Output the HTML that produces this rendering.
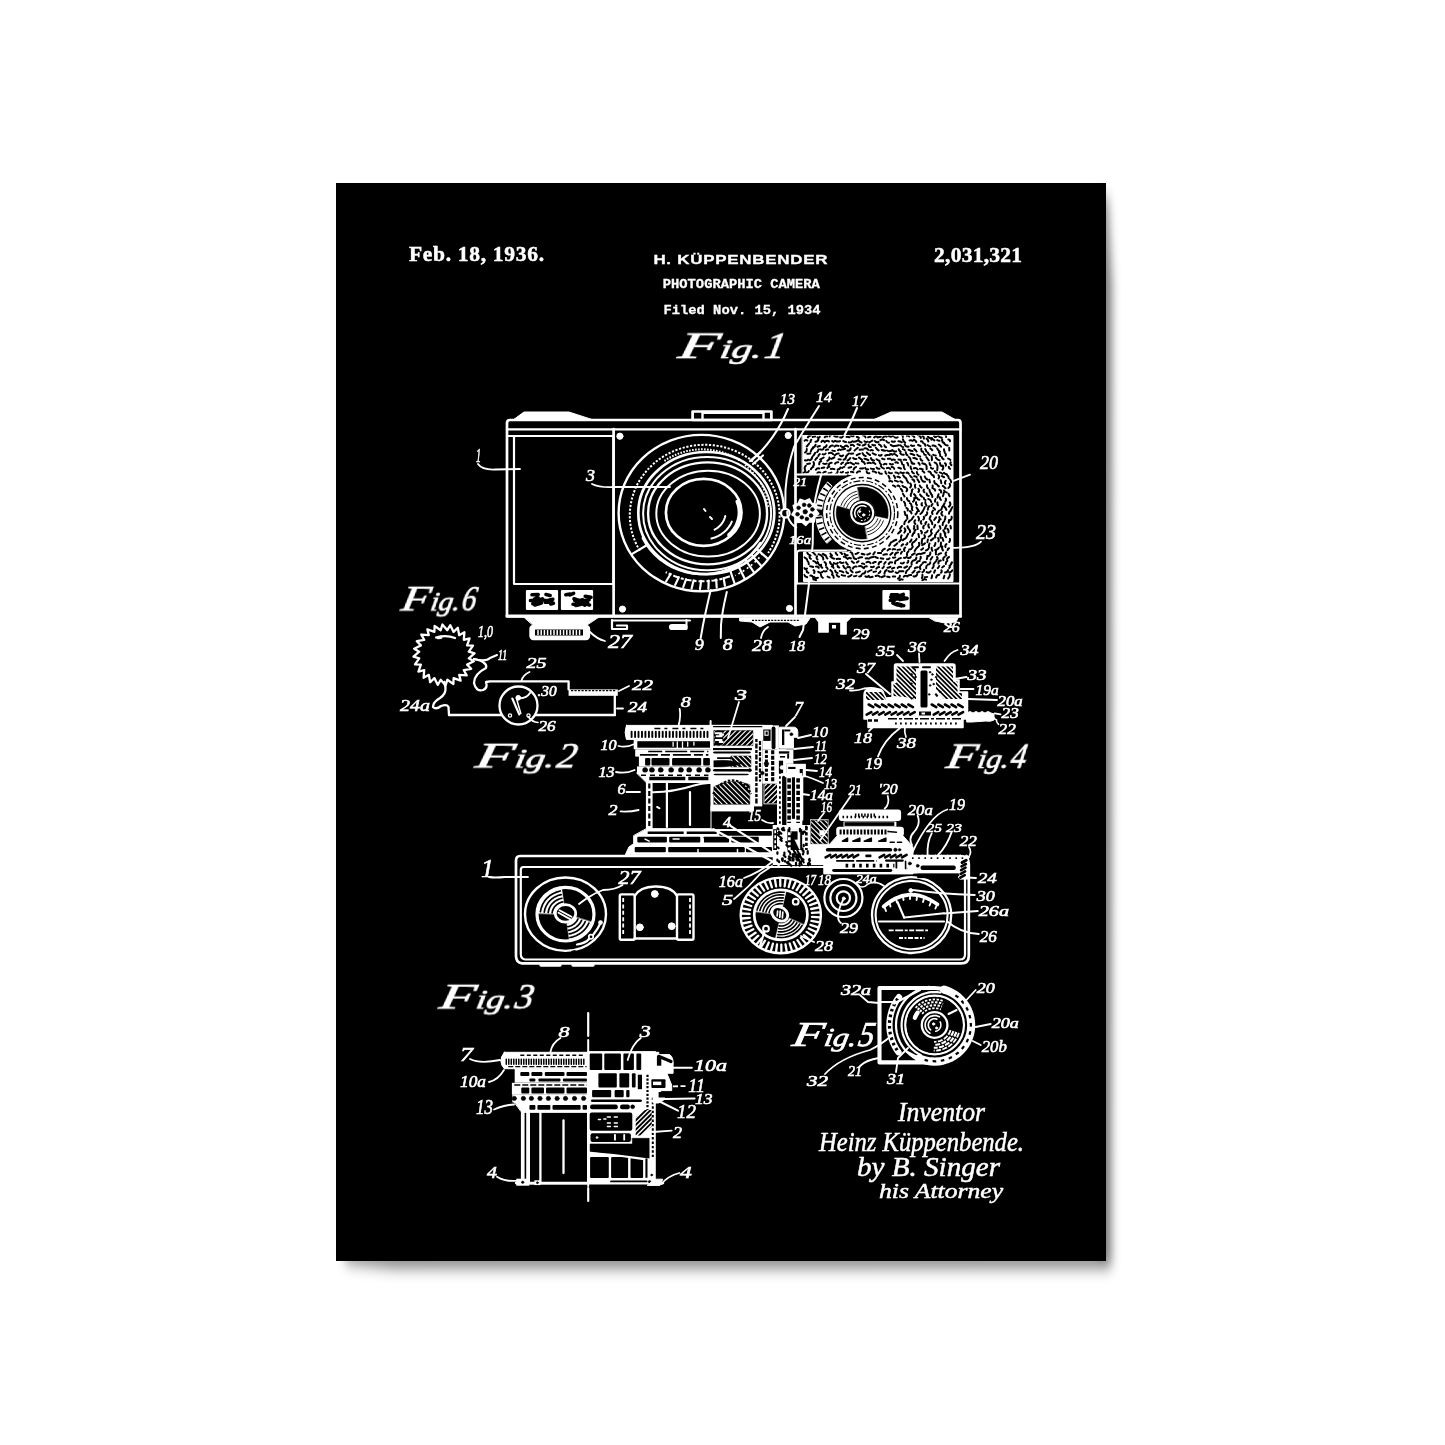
<!DOCTYPE html>
<html lang="en"><head><meta charset="utf-8"><title>Photographic Camera Patent Poster</title>
<style>
html,body{margin:0;padding:0;background:#fff;}
body{width:1445px;height:1445px;overflow:hidden;position:relative;}
svg{display:block;position:absolute;left:0;top:0;}
path,circle,ellipse,rect,polyline{stroke-linecap:round;stroke-linejoin:round;}
text{fill:#fff;stroke:none;}
.lb{font-family:"Liberation Serif","DejaVu Serif",serif;font-style:italic;stroke:#fff;stroke-width:.6px;}
.fig{font-family:"Liberation Serif","DejaVu Serif",serif;font-style:italic;stroke:#fff;stroke-width:.7px;}
.sig{font-family:"Liberation Serif","DejaVu Serif",serif;font-style:italic;stroke:#fff;stroke-width:.5px;}
.hd{font-family:"Liberation Serif","DejaVu Serif",serif;font-weight:bold;stroke:#fff;stroke-width:.5px;}
.nm{font-family:"Liberation Sans","DejaVu Sans",sans-serif;font-weight:bold;stroke:#fff;stroke-width:.35px;}
.mn{font-family:"Liberation Mono","DejaVu Sans Mono",monospace;font-weight:bold;stroke:#fff;stroke-width:.3px;}
</style></head>
<body>
<svg width="1445" height="1445" viewBox="0 0 1445 1445" fill="none" stroke="#fff">
<defs>
<filter id="sh" x="-10%" y="-10%" width="120%" height="120%"><feGaussianBlur stdDeviation="4.6 8"/></filter>
<filter id="soft" x="-5%" y="-5%" width="110%" height="110%"><feGaussianBlur stdDeviation="0.45"/></filter>
</defs>
<path d="M343 1250L347 1262L395 1267L1111 1267L1111.5 285L1107 198L1098 194L1098 1252Z" fill="#000" fill-opacity=".55" stroke="none" filter="url(#sh)"/>
<rect x="336" y="183" width="770" height="1078" fill="#000" stroke="none"/>
<g filter="url(#soft)">
<text class="hd" x="409" y="261" font-size="21.5" textLength="135" lengthAdjust="spacing" >Feb. 18, 1936.</text>
<text class="hd" x="934" y="262" font-size="21.5" textLength="88" lengthAdjust="spacing" >2,031,321</text>
<text class="nm" x="653.4" y="263.8" font-size="13.7" textLength="174.8" lengthAdjust="spacingAndGlyphs" letter-spacing=".6">H. KÜPPENBENDER</text>
<text class="mn" x="662.8" y="287.8" font-size="12.7" textLength="157.1" lengthAdjust="spacingAndGlyphs" >PHOTOGRAPHIC CAMERA</text>
<text class="mn" x="663.5" y="314" font-size="13.6" textLength="157.1" lengthAdjust="spacingAndGlyphs" >Filed Nov. 15, 1934</text>
<text class="fig" transform="translate(676 357.6) skewX(-10)"><tspan x="1" y="0" font-size="37" textLength="41" lengthAdjust="spacingAndGlyphs">F</tspan><tspan x="43.1" y="0" font-size="27.4" textLength="42" lengthAdjust="spacingAndGlyphs">ig.</tspan><tspan x="87.2" y="0" font-size="37" textLength="20.8" lengthAdjust="spacingAndGlyphs">1</tspan></text>
<text class="fig" transform="translate(399 611) skewX(-10)"><tspan x="1" y="0" font-size="35" textLength="28.6" lengthAdjust="spacingAndGlyphs">F</tspan><tspan x="30.4" y="0" font-size="25.9" textLength="29.6" lengthAdjust="spacingAndGlyphs">ig.</tspan><tspan x="61.6" y="0" font-size="35" textLength="14.4" lengthAdjust="spacingAndGlyphs">6</tspan></text>
<text class="fig" transform="translate(473 768) skewX(-10)"><tspan x="1" y="0" font-size="35" textLength="38.7" lengthAdjust="spacingAndGlyphs">F</tspan><tspan x="40.7" y="0" font-size="25.9" textLength="39.7" lengthAdjust="spacingAndGlyphs">ig.</tspan><tspan x="82.4" y="0" font-size="35" textLength="19.6" lengthAdjust="spacingAndGlyphs">2</tspan></text>
<text class="fig" transform="translate(944 768.5) skewX(-10)"><tspan x="1" y="0" font-size="35" textLength="30.6" lengthAdjust="spacingAndGlyphs">F</tspan><tspan x="32.4" y="0" font-size="25.9" textLength="31.6" lengthAdjust="spacingAndGlyphs">ig.</tspan><tspan x="65.6" y="0" font-size="35" textLength="15.4" lengthAdjust="spacingAndGlyphs">4</tspan></text>
<text class="fig" transform="translate(437 1009) skewX(-10)"><tspan x="1" y="0" font-size="35" textLength="36" lengthAdjust="spacingAndGlyphs">F</tspan><tspan x="37.9" y="0" font-size="25.9" textLength="37" lengthAdjust="spacingAndGlyphs">ig.</tspan><tspan x="76.8" y="0" font-size="35" textLength="18.2" lengthAdjust="spacingAndGlyphs">3</tspan></text>
<text class="fig" transform="translate(790 1046) skewX(-10)"><tspan x="1" y="0" font-size="35" textLength="31.3" lengthAdjust="spacingAndGlyphs">F</tspan><tspan x="33.2" y="0" font-size="25.9" textLength="32.3" lengthAdjust="spacingAndGlyphs">ig.</tspan><tspan x="67.2" y="0" font-size="35" textLength="15.8" lengthAdjust="spacingAndGlyphs">5</tspan></text>
<text class="sig" x="898" y="1120.5" font-size="27" textLength="87" lengthAdjust="spacingAndGlyphs" >Inventor</text>
<text class="sig" x="819" y="1151" font-size="28" textLength="205" lengthAdjust="spacingAndGlyphs" >Heinz Küppenbende.</text>
<text class="sig" x="857" y="1176" font-size="27" textLength="143" lengthAdjust="spacingAndGlyphs" >by  B. Singer</text>
<text class="sig" x="879" y="1198" font-size="22" textLength="124" lengthAdjust="spacingAndGlyphs" >his Attorney</text>
<path d="M510 420L958 420Q960.5 420 960.5 423L960.5 616.5L507 616.5L507 423Q507 420 510 420Z" stroke="#fff" stroke-width="2.7" fill="none" />
<path d="M507 429.4L960.5 429.4" stroke="#fff" stroke-width="2.3" />
<path d="M507 616L960.5 616" stroke="#fff" stroke-width="3.2" />
<path d="M513 420L524 412L569 412L592 419.5Z" stroke="#fff" stroke-width="1" fill="#fff" />
<path d="M873 420L891 412L942 412L956 420Z" stroke="#fff" stroke-width="1" fill="#fff" />
<rect x="692.6" y="411.5" width="78.8" height="8.5" rx="0" stroke="#fff" stroke-width="2.7" fill="none" />
<path d="M702.5 412L702.5 420" stroke="#fff" stroke-width="2.4" />
<path d="M763.5 412L763.5 420" stroke="#fff" stroke-width="2.4" />
<path d="M703 412.3L763 412.3" stroke="#fff" stroke-width="3.2" />
<rect x="514" y="436" width="99.4" height="148" rx="0" stroke="#fff" stroke-width="2.2" fill="none" />
<path d="M507 436L514 436" stroke="#fff" stroke-width="1.8" />
<path d="M613.6 429L613.6 616" stroke="#fff" stroke-width="2.7" />
<path d="M795.5 429L795.5 616" stroke="#fff" stroke-width="2.7" />
<circle cx="619.9" cy="436.2" r="3.1" stroke="#fff" stroke-width="1" fill="#fff" />
<circle cx="788.2" cy="435.5" r="3.1" stroke="#fff" stroke-width="1" fill="#fff" />
<circle cx="622.5" cy="609.1" r="3.1" stroke="#fff" stroke-width="1" fill="#fff" />
<circle cx="789.5" cy="608.4" r="3.1" stroke="#fff" stroke-width="1" fill="#fff" />
<rect x="527" y="591" width="30" height="18" rx="0" stroke="#fff" stroke-width="2.2" fill="#fff" />
<path d="M532.8 603.8l5.8 -1M540.4 599.4l5.3 1.2M532 594.8l6.2 -0.3M546 594.5l4.2 0.9M534.8 604.9l6.5 -1.9M530.5 600.5l6.7 -0.5M534.5 599.1l2.1 -1.1M539.2 600l3.2 -1.1M534.6 599.6l3.4 -1.9M547.6 600.6l5.2 -1.3M550.8 604l2.6 -0.7M545.2 602.3l6.7 -0.3M547.4 601.9l3.5 0.4" stroke="#000" stroke-width="3.6" fill="none" />
<rect x="562" y="591" width="30" height="18" rx="0" stroke="#fff" stroke-width="2.2" fill="#fff" />
<path d="M585.1 604.9l2.3 -1.7M582.5 602.6l5.3 -0.8M577.7 601.2l4.9 -1.4M574 598.8l5.6 2M584.9 600.5l4.2 -0.9M565.8 594.8l4.3 -0.7M573 604.3l4.6 0.2M570 594.8l3.6 -1.5M575.7 605.5l5.4 -1.3M583.8 603.3l5.7 1.6M581 603.2l3.8 1.9M585.2 596.3l5.8 0.9M574.7 600.3l4.5 1.7" stroke="#000" stroke-width="3.6" fill="none" />
<rect x="883.5" y="591" width="25.1" height="17.7" rx="0" stroke="#fff" stroke-width="2.2" fill="#fff" />
<path d="M890.3 600.3l3.8 0.4M896.6 595.2l2.1 1.3M890.7 597l7 -0.1M900 599.6l5.2 -1.4M896.7 603.8l4.6 1M897.3 595.2l5.8 0.4M891.4 594.8l6.3 -0.1M898.1 603.9l5.6 1.7M892.9 603.1l4.2 1.7M900.6 595.5l2.7 -1.1M902 599.2l5.1 -0.8M894.7 598.6l3.8 0.3M895.9 604.2l5.4 1.7" stroke="#000" stroke-width="3.6" fill="none" />
<ellipse cx="701.4" cy="513.1" rx="82.8" ry="78.2" stroke="#fff" stroke-width="2.4" fill="none" />
<path d="M639.8 550.7L636.2 544.1L633.4 537.1L631.3 529.9L630.1 522.5L629.7 515.1L630.2 507.6L631.5 500.3L633.6 493.1L636.4 486.1L640.1 479.5L644.5 473.3L649.5 467.6L655.2 462.3L661.4 457.7L668.1 453.7L675.1 450.4L682.6 447.9L690.2 446L698.1 445L706 444.7L713.9 445.3L721.7 446.6L729.3 448.6L736.6 451.5L743.6 455L750.1 459.2L756.1 464L761.6 469.4L766.4 475.3L770.5 481.7L773.9 488.4L776.6 495.4L778.4 502.7L779.4 510.1L779.6 517.6L778.9 525L777.4 532.3L775.1 539.5L772.1 546.3L768.2 552.9" stroke="#fff" stroke-width="2" fill="none" stroke-dasharray="2.2 1.6" style="stroke-linecap:butt"/>
<ellipse cx="706.3" cy="513.1" rx="68" ry="61.1" stroke="#fff" stroke-width="2.7" fill="none" />
<ellipse cx="707.1" cy="513.6" rx="64" ry="56.7" stroke="#fff" stroke-width="2" fill="none" />
<ellipse cx="707.6" cy="513.4" rx="59.5" ry="51" stroke="#fff" stroke-width="2.4" fill="none" />
<ellipse cx="708.1" cy="513.6" rx="51.8" ry="42.9" stroke="#fff" stroke-width="2" fill="none" />
<ellipse cx="703.7" cy="512.4" rx="37.8" ry="33.5" stroke="#fff" stroke-width="2.7" fill="none" />
<path d="M767.4 558.4L756.5 548.9M761.1 565.7L751.4 554.8M753.8 572.1L745.5 560M744.6 578.5L738 565.2M734.6 583.5L729.8 569.3M632.2 553.9L646.7 545.3M724.9 585.7L723.6 578M716.7 587.6L716.2 579.7M708.4 588.7L708.7 580.7M700 589L701.1 580.9M691.6 588.4L693.6 580.4M683.3 587L686.1 579.2M675.2 584.9L678.8 577.2M666.2 581.3L670.6 574" stroke="#fff" stroke-width="2.2" fill="none" />
<path d="M729.9 576.3L724.6 578.1L719.3 579.5L713.9 580.5L708.4 581.1L702.8 581.3L697.3 581.2L691.8 580.6L686.3 579.7L681 578.3L675.7 576.6L670.6 574.5L665.7 572.1" stroke="#fff" stroke-width="2.1" fill="none" stroke-dasharray="6 2 3 2" style="stroke-linecap:butt"/>
<path d="M762.7 553.5L759.9 556.9L756.9 560.1L753.7 563.2L750.3 566L746.7 568.7L743 571.2L739.1 573.4L735.1 575.4" stroke="#fff" stroke-width="1.7" fill="none" stroke-dasharray="2 3" style="stroke-linecap:butt"/>
<path d="M760.3 542.9L756.3 548.6L751.7 553.9L746.6 558.7L740.9 562.9L734.8 566.5L728.2 569.4L721.4 571.7L714.4 573.2L707.2 574.1L700 574.1L692.8 573.5L685.7 572.1L678.9 569.9L672.3 567.1L666.1 563.6L660.3 559.5L655 554.9L650.3 549.7L646.2 544.1L642.8 538.1" stroke="#fff" stroke-width="2.4" fill="none" />
<path d="M664.4 460.9L668.6 458.2L673.1 455.9L677.7 453.9L682.5 452.3L687.3 451L692.3 450.1L697.3 449.5L702.4 449.3L707.4 449.5L712.5 450.1L717.4 451L722.3 452.3L727.1 453.9L731.7 455.9L736.1 458.2L740.4 460.9" stroke="#fff" stroke-width="2" fill="none" stroke-dasharray="1.6 1.4" style="stroke-linecap:butt"/>
<path d="M745 465.2L748.8 468.5L752.4 472L755.7 475.9L758.6 479.9L761.2 484.2L763.4 488.6L765.2 493.2L766.7 498L767.8 502.8L768.4 507.6" stroke="#fff" stroke-width="1.7" fill="none" stroke-dasharray="1.4 2" style="stroke-linecap:butt"/>
<path d="M725.3 515.9L724.7 518L723.9 520.1L722.9 522L721.6 523.9L720.1 525.6L718.5 527.1L716.6 528.5L714.6 529.7" stroke="#fff" stroke-width="2" fill="none" />
<path d="M731.8 521.6L730.4 524.6L728.5 527.4L726.4 530L723.9 532.3L721.1 534.3L718 536.1L714.8 537.5L711.4 538.5" stroke="#fff" stroke-width="2" fill="none" />
<path d="M737.4 501.5L738.6 504.9L739.3 508.5L739.6 512.1L739.4 515.7L738.7 519.3L737.6 522.8L736.1 526.2L734.1 529.4L731.8 532.3L729.1 535" stroke="#fff" stroke-width="3.9" fill="none" />
<path d="M704 509L705.5 511" stroke="#fff" stroke-width="2" />
<path d="M710 517L712 519" stroke="#fff" stroke-width="2" />
<path d="M750 461L760 452.5" stroke="#fff" stroke-width="2.2" />
<path d="M753 464L763 455.5" stroke="#fff" stroke-width="2.2" />
<text class="lb" x="780" y="404" font-size="15.2" textLength="15" lengthAdjust="spacingAndGlyphs" >13</text>
<path d="M788 409Q775 440 751 461" stroke="#fff" stroke-width="2" fill="none" />
<text class="lb" x="816" y="402" font-size="15.2" textLength="16" lengthAdjust="spacingAndGlyphs" >14</text>
<path d="M819 406Q800 436 794 447Q787 468 785.5 490L785.3 508" stroke="#fff" stroke-width="2" fill="none" />
<text class="lb" x="852" y="406" font-size="15.2" textLength="15" lengthAdjust="spacingAndGlyphs" >17</text>
<path d="M857 408Q850 425 843 438Q828 462 821 475.5Q814 500 813 517L812.7 544L809 584L803 630L799.5 637" stroke="#fff" stroke-width="2" fill="none" />
<text class="lb" x="476" y="462" font-size="18.2" textLength="5" lengthAdjust="spacingAndGlyphs" >1</text>
<path d="M478 464Q482 470 495 469.5L520 469" stroke="#fff" stroke-width="1.8" fill="none" />
<text class="lb" x="586" y="481" font-size="16.7" textLength="9" lengthAdjust="spacingAndGlyphs" >3</text>
<path d="M592 484Q600 488 615 487L670 487" stroke="#fff" stroke-width="1.8" fill="none" />
<text class="lb" x="980" y="469" font-size="18.2" textLength="18" lengthAdjust="spacingAndGlyphs" >20</text>
<path d="M970 474.7L953.6 480.8" stroke="#fff" stroke-width="1.8" />
<text class="lb" x="976" y="539.4" font-size="20.8" textLength="20" lengthAdjust="spacingAndGlyphs" >23</text>
<path d="M981 541.7Q975 548 953.6 547.8" stroke="#fff" stroke-width="1.8" fill="none" />
<text class="lb" x="789" y="544" font-size="13" textLength="22" lengthAdjust="spacingAndGlyphs" >16a</text>
<text class="lb" x="793.6" y="486" font-size="12.1" textLength="13.4" lengthAdjust="spacingAndGlyphs" >21</text>
<text class="lb" x="943.7" y="632" font-size="14.5" textLength="16" lengthAdjust="spacingAndGlyphs" >26</text>
<text class="lb" x="608" y="648" font-size="18.2" textLength="24" lengthAdjust="spacingAndGlyphs" >27</text>
<path d="M590 632Q597 639 605 641" stroke="#fff" stroke-width="1.8" fill="none" />
<text class="lb" x="694.7" y="650" font-size="16.7" textLength="9" lengthAdjust="spacingAndGlyphs" >9</text>
<path d="M710.7 590Q706 610 703 625L700.7 638" stroke="#fff" stroke-width="2" fill="none" />
<text class="lb" x="722.8" y="650" font-size="16.7" textLength="10" lengthAdjust="spacingAndGlyphs" >8</text>
<path d="M726.8 592Q722 612 721 625L720.8 638" stroke="#fff" stroke-width="2" fill="none" />
<text class="lb" x="752" y="651" font-size="16.7" textLength="20" lengthAdjust="spacingAndGlyphs" >28</text>
<path d="M768 627Q762 631 761 638" stroke="#fff" stroke-width="1.8" fill="none" />
<text class="lb" x="789" y="651" font-size="15.2" textLength="16" lengthAdjust="spacingAndGlyphs" >18</text>
<text class="lb" x="852" y="639" font-size="15.2" textLength="17.5" lengthAdjust="spacingAndGlyphs" >29</text>
<path d="M524 617L599 617L587 625L533 625Z" stroke="#fff" stroke-width="1" fill="#fff" />
<rect x="530.5" y="626" width="58.5" height="13" rx="3" stroke="#fff" stroke-width="2.4" fill="#fff" />
<rect x="535" y="629.5" width="48" height="6" rx="0" fill="#000" stroke="none"/>
<path d="M538 630.5L538 634.5M541.2 630.5L541.2 634.5M544.4 630.5L544.4 634.5M547.6 630.5L547.6 634.5M550.8 630.5L550.8 634.5M554 630.5L554 634.5M557.2 630.5L557.2 634.5M560.4 630.5L560.4 634.5M563.6 630.5L563.6 634.5M566.8 630.5L566.8 634.5M570 630.5L570 634.5M573.2 630.5L573.2 634.5M576.4 630.5L576.4 634.5M579.6 630.5L579.6 634.5" stroke="#fff" stroke-width="1.5" fill="none" />
<path d="M612 620L612 629L627 629L627 625.5L617 625.5" stroke="#fff" stroke-width="2.2" fill="none" />
<path d="M612 620.5L690 620.5" stroke="#fff" stroke-width="2" />
<rect x="670" y="625" width="16.5" height="4" rx="2" stroke="#fff" stroke-width="2.2" fill="#fff" />
<path d="M686.5 620L686.5 629" stroke="#fff" stroke-width="2" />
<path d="M740 618L810 618L806 624L795 626L788 622L770 622L760 627L752 622L740 621Z" stroke="#fff" stroke-width="1" fill="#fff" />
<path d="M752 620.3L800 620.3" stroke="#000" stroke-width="1.3" stroke-dasharray="2 1.2" style="stroke-linecap:butt"/>
<path d="M816 618L850 618L846 622L846 634L841 634L841 622L828 622L828 632L819 632L819 622Z" stroke="#fff" stroke-width="1.7" fill="#fff" />
<rect x="829.5" y="623.5" width="10" height="6.5" rx="0" fill="#000" stroke="none"/>
<rect x="832" y="625" width="4" height="3.5" rx="0" fill="#fff" stroke="none"/>
<path d="M930 618L958 618L956 622L945 623L935 621Z" stroke="#fff" stroke-width="1" fill="#fff" />
<path d="M945 624Q950 628 952 627" stroke="#fff" stroke-width="1.7" fill="none" />
<path d="M797 583.5L960 583.5" stroke="#fff" stroke-width="2.1" />
<clipPath id="texc"><path d="M802.5 435.5H953V581.5H803.5V552H848A40 40 0 0 0 848 474H802.5Z"/></clipPath>
<path d="M802.5 435.5H953V581.5H803.5V552H848A40 40 0 0 0 848 474H802.5Z" stroke="#fff" stroke-width="1" fill="#fff" />
<path d="M807.9 437.4q0.8 -1.9 2.9 -2M812.8 436.9q1.1 -0.7 2.4 -0.4M817.6 437.4q1.4 0.8 2.2 -0.6M824.7 437.2q0.9 -1.5 2.4 -0.7M829.6 436.6q-0 -1.9 1.9 -2M834.3 436.1q1.6 0.7 3.3 0.5M840.2 437.3q1.8 0.9 2.7 -0.9M846.6 437q1.5 -0.6 2.9 0.3M850.6 435.3q1.2 1.4 3 0.7M856.8 437q1.3 -0.1 2 0.9M863.1 435.4q2 -0 2.4 2M868.1 437.3q1.1 -0.7 2.3 -0.5M874.1 437.5q0.9 -1.5 2.6 -1M877.5 437.5q1.6 -0.6 3.3 -0.8M883.1 437.4q1.4 -1.8 3.5 -0.8M888.7 435.9q2.1 1.4 4.3 0.1M894.6 437.2q1.5 1.1 3.1 0M901.8 434.5q1.1 1 1.1 2.5M906.9 435.9q1.4 -0.6 2.3 0.6M912 435q1.2 0.9 2.3 2M917.9 435.1q2.4 0.4 3 2.8M922.7 436.1q1.4 0.9 1.2 2.5M927.9 436.7q1.6 2.2 4.1 1.3M934.1 436.1q0.9 1.3 2.2 0.5M938.2 436q1.6 1.2 3.6 1.8M945.1 434.8q1.1 0.8 1 2.1M804.7 440.7q1.2 -1.4 2.6 -0.2M810.4 442.1q0.1 -1.3 0.9 -2.4M815.4 441.7q2.9 0 3 -2.8M821.4 441.9q0.7 -1.6 2.3 -0.9M824.7 442.2q1.8 -2.4 4.2 -0.8M832.1 441.1q1.5 1.4 2.9 -0.2M835.8 441.1q2.1 1 4.2 0M843.3 441.1q1.2 1 2.8 1M848.7 442.3q2.3 0.8 3.8 -1.1M853.7 441.7q1.8 -0.1 3.4 -0.9M858.3 440q1.1 2 3.3 2.5M864.5 441.2q1.4 1.3 3.1 0.5M869.4 442.4q1.5 -1 3 -1.8M875 441.1q1.5 1.8 3.5 0.7M880.4 440.1q1.8 -1.1 3.7 -0M886.3 441q0.7 1.9 2.7 1.7M891.8 441.4q1.6 0.9 3.1 -0M898.4 441.2q1.9 -0 3.3 1.1M902.9 439.3q0.4 2.2 2.2 3.4M909.6 440.4q1.7 -0.5 3.2 0.4M914 439.6q1.6 0.8 2.3 2.4M921 441.3q1.6 -0.2 1.9 1.4M926.6 438.6q1.5 1.1 1.8 2.9M931.3 439.6q1.9 -1.1 3.1 0.8M937.3 440.1q1 0.6 2.2 0.7M942.2 439.5q-0.6 2.6 1.9 3.5M948.3 439.4q1.8 0.1 1.7 1.9M806.7 446.5q1.2 -1.4 2.4 -2.9M812.8 447.4q2.5 -0.2 2.8 -2.7M817.5 446.7q1.2 -0.4 2.4 -0.7M823.9 447.4q2.2 -0.1 2.7 -2.2M829.5 447.3q1.1 -1.8 3.2 -1.7M834.6 446.5q1.7 -1.4 3.7 -0.6M840.7 445.9q1.2 1.5 3.1 1.2M845.2 445.9q1.8 -0.8 2.9 0.8M850.8 445.2q1.9 -1.1 3.2 0.7M857.4 444.2q1.4 0.1 2.4 0.9M862.6 445.5q1.8 -0.1 3 -1.5M868.5 444.8q0.2 2.2 2.4 2.2M872.3 444.7q1.3 0.9 2.8 0.6M879 444.4q1.7 0.7 2.5 2.3M884.4 445.2q0.1 1.6 1.7 2.1M890.8 444.9q1.1 0.7 2.3 1.3M894.4 446.1q2.1 -0.3 4.3 -0.8M900.5 445.2q1 1.5 2.7 1.9M904.7 444.6q1.1 2.6 3.9 1.9M911 445.3q1.4 1.2 3.1 0.4M918.1 444.9q1 0.8 2.4 1.1M924.4 443.8q1.1 0.7 1 2M927.7 445.1q1.1 1.1 2.6 1.5M932.6 445.5q1.8 -0.3 3.2 1M938.8 444.5q1.3 0.9 2.2 2.1M944.5 444q1.4 1.3 3.2 1.6M805.1 452.5q1.9 -1.2 1.7 -3.4M810.8 451.4q0.3 -2.4 2.5 -3.4M817.2 452q1.1 -1 1.2 -2.5M820.2 449.4q1.6 0.7 3.1 -0.3M825.9 450.1q0.9 -0.9 2.2 -0.6M832.4 450.6q1.2 0.3 2.4 0.5M838 450.2q1.2 -1.2 2.6 -0.2M841.8 449.5q1.7 -0.1 3.3 -0.7M847.4 450.6q2.8 0.4 3.3 -2.3M854.5 450.6q1.5 -1.5 3.3 -2.8M859.6 449.8q1.6 -0.3 3.3 -0.2M864.5 448.4q2.3 -0.5 3.8 1.4M870.3 450.5q1.3 -0.9 2.6 0M875.9 447.7q0.8 2 2.8 2.8M881.7 450q1.7 0.4 3.5 0.7M887.1 450.5q2 1.2 4.2 0.3M892.3 450q1.4 2.2 3.9 1.4M898.7 449.3q0.4 1.6 1.9 2.4M902.9 449.1q1.1 0.3 1.9 1.1M908.5 449.7q1.9 1.3 4.1 1.2M914.3 449.1q1.4 1 2.3 2.4M921.3 448.6q-0.6 2.6 1.9 3.4M925.2 449q0.8 1.1 1.2 2.5M930.4 448.7q1.3 0.3 1.9 1.5M937.2 448.4q1.1 1.9 2.7 3.4M944 449.2q0 1.2 0.5 2.3M949.2 447.8q0.1 1.3 0.1 2.6M807.2 453.8q1.6 -0.1 3.1 -0.3M813.2 455.8q1.2 -1.4 2 -3M818.4 455.9q0.2 -1.2 1.3 -1.8M822.6 454.2q1.8 0.9 3 -0.7M828.9 453.2q2.5 -1.4 4.2 0.9M834.8 455.3q1.5 -1.9 3.9 -1.8M839.9 455.5q1.7 1.5 3.2 -0.1M846.4 456q1.2 -1.4 2.5 -2.5M850.7 453.8q1.2 -0.3 2.5 -0.3M856.7 455.1q1.5 -0.9 3.2 -1.4M862.5 453.2q0.9 2.2 3.2 2.9M866.9 452.6q1.3 1.6 3.1 2.4M872.7 453.3q1.4 1 3.1 1.5M878.9 455.2q1.5 1.1 2.7 -0.4M885.2 455.6q1 -0.8 2.3 -0.6M889.2 455q1.5 -1.6 3.4 -0.3M894.2 453.9q1.7 0.6 3 2M900.2 453.3q1.3 1.9 3.6 1.4M905.8 452.2q0 2 1.7 3.1M910.6 453.7q2 0.2 3.7 1.4M917.3 454.7q1 1.6 2.9 1.7M923.9 453.7q0.4 1.4 1.9 1.4M927.7 452.4q0.5 1.7 1.9 2.6M933.3 454.7q1.1 0.8 2.5 0.8M939 452.4q1.4 1.5 1.2 3.5M944.8 452.8q1.5 1.1 0.9 2.9M805 460.3q1.8 0.6 3.1 -0.7M809.5 460.3q2.6 -0.6 2.7 -3.3M815.3 459.9q0.7 -1.4 1.9 -2.3M820.3 459.5q1.8 -0.9 3.4 -2M827.4 460.8q2.3 -0.9 2.1 -3.3M831.3 458.9q1.6 -0.6 3 -1.5M838.5 459.3q1.2 0.1 2.3 0.1M843.6 459.7q2.4 -0.5 2.4 -3M847.5 460.6q1.8 -0.9 2.8 -2.6M853.1 458.1q1.4 1.3 3.3 0.8M859 457.6q1.5 1.1 3 2.2M864.4 458.7q2.1 0.4 3.9 1.5M870.9 458.1q0.7 2.3 3.1 2.5M876.5 459.2q1.2 1.4 3 1.6M882.1 458.6q1.1 0.9 2.4 0.7M887.9 458.8q1.3 -0.2 2.6 -0M891.9 460.1q1.3 -1.2 2.9 -0.2M898.4 459.4q1.2 0.1 2.3 0.4M903.7 459.8q1.2 -0.7 2.4 0.1M908.8 457q1.7 1 1.8 3M913.3 458q2.1 -0.1 3.7 1.2M920.4 458.7q0.2 1.7 1.9 2M926.3 457q1.3 1.7 2.5 3.5M931.6 456.2q0.5 2 0.2 4M936 457.8q1.4 1.9 3.5 2.6M941.8 456.9q0.2 1.7 1.8 2.4M948.1 458.6q1.3 0.3 2.2 1.3M807.2 464q1.4 -0.1 2.8 -0.4M813.1 466.1q1.6 -1.9 0.4 -4M819.2 464.3q-0.3 -2.4 2 -3.2M823.2 463.5q1.8 1.2 3.5 -0M828.5 465.5q0.5 -2.7 3.2 -2.7M835.1 463.6q1.1 -1.7 3.1 -1.3M841.2 463.9q0.7 -1.1 1.9 -1.4M845.3 464.9q0.9 -2.2 3.3 -1.8M850.5 462.6q1.5 1.4 3.6 1.8M855.7 463.1q1.3 0.4 2.7 0.5M861.9 461.3q2.3 0.4 3 2.6M867.5 463.2q1.7 -0.7 3.4 -0.1M872.9 462.7q1.6 -0.1 2.5 1.3M879.5 461.8q0.3 1.9 1.9 2.8M883.9 464.4q1.1 -1.2 2.5 -0.3M889.8 463.8q1.4 1.2 3.1 0.3M895.4 462.5q1.4 -0.7 2.5 0.5M901.3 461.2q0.5 1.5 1 3M907.2 462.7q1 1.2 1.1 2.8M911.3 461.5q0.4 2.6 3 2.3M918.5 462.9q0.9 0.7 1.2 1.9M922.3 463.3q1.4 0.5 2.9 1M929.5 463.1q-0 1.4 1.1 2.3M934.6 462.5q2 0.3 2.4 2.3M940 462.9q-0.1 2.3 1.9 3.3M944.9 463.2q1.5 0.9 0.9 2.5M950.7 462.3q-0.9 1.7 0.7 2.8M805.2 470.1q-1.3 -2.4 0.6 -4.3M810.8 469.3q0.7 -1.8 2.5 -2.4M815.9 469.7q1.2 -1.8 3.3 -1.2M821.6 467.9q1.4 -0 2.7 -0.4M827.4 468.1q0.4 -1.6 2 -1.3M830.8 469q1.8 -0.7 3.6 0.1M837.7 469.6q2 -0.2 2.8 -2.1M842.1 468q1 -0.8 2.3 -1.1M848.5 467.7q1.4 -0.1 2.7 -0.6M853.6 469.7q0.3 -2.2 2.5 -2.7M860.1 468.4q1.6 0.3 3.1 -0.2M865.2 467.9q0.8 2.2 2.9 1.4M870.9 468.6q1.5 0.4 3.1 0.3M876.6 467.5q1 1.8 2.9 1.2M880.8 465.8q0.9 2.1 3.1 2.8M886.8 468.1q2.1 -1 3.4 0.9M891.7 467.1q2 -0.3 2.5 1.7M898.3 467.7q1.5 0.2 2.7 0.9M903.7 465.1q-0.2 2.3 1.1 4.2M910.6 466.6q-0.2 1.5 0.8 2.6M914 468.3q2.3 -0.8 3.7 1.2M920 468.7q1.5 -0.2 2.7 0.6M926.3 465.2q0.5 2 0.3 4M930.9 467.8q0.7 1.2 2.1 0.8M937.5 465.9q-0 2.2 -0.3 4.3M942.8 465.6q1.1 2.2 -0.3 4.2M948.8 466.7q-0.2 1.6 1.3 2.2M803.1 472.9q1.6 -0.2 1.9 -1.8M806.4 472.6q1.8 0.1 2.4 -1.6M817.2 473.3q1.3 -1.6 3.1 -0.7M823.3 472.8q0.8 -1.3 2.4 -1.1M828.5 473.3q1.6 0.1 2.9 -0.8M835.9 473.9q1.8 -0.4 1.7 -2.3M840.7 472.4q1.5 0.8 2.3 -0.6M845.8 473q1.2 -0.1 2.2 -0.7M850.9 471.9q1.3 -0.3 2.4 0.4M856.9 472.7q1.2 -1.6 3.1 -1.3M866.7 471.8q0.7 1.9 2.7 1.4M872.8 471.3q1.9 0.2 3.4 1.3M878.8 472.4q1 1.7 3 1.4M885.4 471.4q-0.1 1.5 1 2.4M888.8 472.4q1.3 1.2 3.1 0.7M895.5 472.6q1.9 -0.3 3.1 1.1M900.4 472.4q1.6 1 3.5 0.4M906.5 472.8q1.6 -0.6 2.3 1M912 471.4q0.4 1.6 1.9 2M916.8 471.9q-0 2 1.7 2.9M922.6 471.1q1.1 0.4 1.7 1.5M928.4 471.5q2.3 0 2.7 2.3M934.7 471.1q0.6 1.2 1.9 1.7M939.8 472.4q1.6 0.4 2.7 1.5M944 472.8q1 1.5 2.9 1.5M888.4 475.8q0.9 1.4 1.2 3M893.9 475.6q0.9 1 1.2 2.4M897.4 476.8q1.5 -0.3 2.5 0.8M903.1 475.2q1 2.1 3.1 3.1M910.1 475.7q0.5 1.1 1.7 1.6M914.2 476.3q1.4 -0.2 2.5 0.8M920.7 476.6q0.7 1.3 0.7 2.7M924.8 476.5q0.6 2 2.5 3M932 475q2 0.3 2 2.3M938.4 475.1q1.6 1.6 0.2 3.3M941.9 476q1 0.8 2.2 1.2M947 475.2q1.9 0.9 1.7 3M889.3 481.2q1.6 -0.3 3 0.4M895 480.6q1.5 0.4 2.9 1M900.3 481.3q1.2 0.3 2.1 1.2M906.4 479.3q0.7 1.7 1.8 3.3M912.4 479.5q2 0.3 2 2.3M917.4 479.2q1 1.5 1.8 3M922.3 480.5q0.9 1.7 2.7 1.2M929.4 479.8q0.3 1.3 0.5 2.6M934.3 481.1q-0.3 2.3 1.9 2.9M940.7 480.3q0.6 1.5 0.6 3M945.8 480.8q-1.5 1.3 -0.5 3M950.1 479.5q0.9 1.2 1 2.7M893 485.5q1.4 0.2 2.4 1.3M897.5 485.7q1.5 -0.5 2.1 0.9M902.5 485.8q1 1.5 2.9 1.4M910.2 483.4q1.9 2 0 4.1M915.2 484.6q-0.6 1.6 0.2 3.1M919.8 485.4q0.3 1.6 1.8 2.3M927 485.3q-0.2 1.7 0.9 3M932.6 485.5q0.2 1.3 -0.2 2.5M937.3 484.8q0.7 0.9 1.6 1.6M942.8 485.8q1.6 1 2.7 2.5M949.7 483.8q1.2 2.7 -1.3 4.2M900.8 488.8q1.4 0.9 1.6 2.6M906.7 488.3q1.1 1.5 -0.2 2.9M912.7 489.3q-1.3 1 -0.7 2.5M918.5 488.9q1.3 1.6 -0.1 3.1M923.9 489.5q-1 1.6 0.5 2.8M929.5 489.7q-0.1 2.2 1.5 3.7M933.5 488.8q1.6 0.1 1.7 1.8M939.4 489.7q2.3 0.6 1.7 2.9M944.1 490.5q0.7 1.8 2.7 2M903 493.9q0.7 1.3 1.5 2.5M911.4 493.1q-1 1.3 -0.5 2.9M914.1 494.1q2 1.5 1.7 4M920.1 494.5q0.6 1.4 1.9 2.1M926.7 493.6q-0.1 2.1 2 2.3M930.8 493.7q1.7 1.2 1.5 3.3M938.5 494.2q-0.5 1.7 -1 3.4M943.8 492.6q-0.3 1.8 -0.9 3.6M948.6 493.7q0.2 1.4 1 2.5M901.2 498q0 1.2 0.3 2.3M906.9 498q0.1 2.4 2.4 3.2M914.2 497.9q0.7 2.3 -1.2 3.8M917.1 497.9q0.5 1.8 2.3 1.8M923.7 497.7q0.1 1.9 1.9 2.4M928.2 498.9q2.5 0.6 3.1 3.1M935.5 499.1q-0.6 1.2 -0.4 2.6M939.8 497.3q0.2 1.5 1.1 2.7M945.7 498.6q0.8 1.4 -0.3 2.6M904 501.7q1.5 1.8 1.3 4.1M909.9 503.2q1.8 0.8 1.6 2.7M916.1 502.2q-0.5 1.7 0.8 2.8M921.9 503.1q-0.9 1.3 0.2 2.4M925.3 502.1q-0 2 1.2 3.6M932.5 504q-0.8 0.8 -1.1 2M937.4 502.4q-0.2 1.5 0.5 2.9M944.6 503.2q-0.8 2.1 -2.4 3.7M949.8 502.3q1.5 2.5 -0.8 4.3M906.4 507.8q1.9 0.8 1.3 2.8M912.4 507q-1.1 1.6 0 3.2M916.6 507.5q1 1.9 2.3 3.7M924.7 506.9q-0.6 2.1 -1.8 3.9M929.2 506.2q-1.4 1.5 -1.4 3.6M933.5 507.8q1.2 0.6 1.6 1.8M941.9 507.9q-0.3 1.1 -1 2.1M944 506.4q1.8 1.3 2.4 3.5M952.5 507.1q-1.3 1.7 -2 3.8M904.6 511.8q0.4 1.6 0.8 3.2M910 511.1q1.3 0.8 1.5 2.3M917.1 511.7q-0.2 1.7 -1.5 2.7M922.9 510.8q-0.7 2 -2.5 3.2M927.1 512.2q0.7 2.3 -1.5 3.3M933.1 510.6q-1.7 1.4 -0.6 3.4M939.1 510.6q-1.3 1.4 -2.2 3.2M942.1 511.8q-1.6 2 0.4 3.7M950.2 510.9q-1.3 1.2 -1.2 2.9M907 515.3q0.1 1.7 0.4 3.5M913.6 516.6q-1 1.1 -1.6 2.5M918.2 516.8q1.3 1.7 0.5 3.7M923.8 516.8q0.9 1.6 -0.5 2.7M930.7 516q-0.9 1.3 -1.1 2.9M936.1 517.4q-0.9 1.3 -1.9 2.6M939.3 516.9q-0.2 1.7 1.4 2.5M945.3 516.4q0.3 1.8 -0.5 3.4M951.6 516.8q0.6 2.5 -1.7 3.6M906.1 520.3q-1.9 1.4 -1.8 3.8M910.8 520.2q-1.7 0.5 -2.1 2.1M915.2 520.2q-1.7 1.9 0.1 3.8M921.2 521q-1.1 1.4 0.2 2.7M926.4 522q-1.3 0.7 -0.9 2.2M930.6 520.3q1.6 1.7 1.7 4M938.9 520.2q0.6 1.5 -0.8 2.2M944.2 521.3q-1.8 1.5 -1.5 3.8M949 520.1q-0.2 1.3 -0.3 2.6M902 526q-1.2 1.2 -1.9 2.7M907.6 526.2q-0.2 1.4 0.9 2.2M914.2 525.9q0.2 1.5 -0.4 2.9M917.4 525.5q0.1 1.7 0.3 3.5M923.9 525.7q-1.2 1.2 -0.4 2.7M928.6 524.4q-0.7 1.7 0.5 3.2M935.2 524.9q-0.6 1.3 -1.1 2.6M939.7 526.1q0.9 1.2 0.7 2.6M946.4 525.3q-0.9 1.7 -1.6 3.6M950.4 525.9q0.5 1.3 0.5 2.6M901.1 530.5q-1.4 1.7 -3 3M904.6 528.3q1.7 2.3 -0.3 4.3M909.2 529.5q1.3 1.1 0.8 2.8M915.6 529.7q-1.5 1.3 -1.3 3.2M920.9 530.8q1.5 1 0.7 2.6M927.6 530.7q-0.6 1.9 -2.5 2.1M931.8 529.4q-1.8 2 0.1 3.9M938.7 530.2q-0.3 1.9 -2.1 2.4M943.3 530.4q1.2 1.6 1.6 3.5M947.4 528.7q1.6 1.6 1 3.7M901.6 535.4q-0.7 1.1 -0.6 2.3M908.1 533.9q-1 1.9 -1.9 3.8M913.3 533.4q-0.7 1.2 -1.1 2.6M918.4 534q0.4 1.6 0.6 3.2M924.4 535.1q1.2 1.7 -0.2 3.2M931.5 533.8q-0.7 2.1 -2.8 2.8M936.1 534q-1.8 1.4 -0.7 3.4M940.5 533.7q0 2 0 4.1M945.4 533.1q-0.9 2.2 0.6 4M896.3 539.8q-2 0.7 -3.7 1.8M901 539.3q-0.5 1.5 -1.8 2.5M904.9 538.8q-1.4 0.4 -2.2 1.5M911.5 539.4q-0.2 1.6 -1.5 2.5M916.6 538.9q-0.9 2.1 -2.9 3.2M922.4 538.9q-0.8 2.1 -0.6 4.3M927.9 539.4q-0.3 1.4 -0.5 2.8M933.5 538.2q-1.2 1.2 -2.6 2.2M938.1 538q1 1.7 0.3 3.5M942.4 538q0.4 1.4 0.9 2.8M949.9 539q0.5 1.7 -0.6 3M891 542.3q-0.7 1.7 -1.8 3.3M897.2 543.3q-1.2 1.5 -2.9 2.5M903.2 544.3q-1.2 0.4 -1.7 1.5M907.4 542.9q0.2 1.5 -1.2 1.9M912.8 542.5q-1.5 2.1 -0 4.3M919 542.8q1.1 2.5 -1.1 4.2M925 543.3q-1.2 1.2 -2.8 1.8M929.5 543.6q-1 1.9 -0.4 3.9M935.4 543q0.1 1.7 -1 3M941 542.6q-0 2 -0.4 3.9M946.4 544.1q-1.6 1.1 -0.9 2.9M884.8 548.8q-1.8 0.5 -2.7 2.2M890 549.1q-1.5 0.2 -2.4 1.4M895.1 549.3q-1.3 -0.7 -2.5 0.1M900.3 549.5q-1.4 0 -2.8 0.4M905.2 547.5q-1.8 1.4 -0.8 3.5M911.9 548.1q-0.8 1.7 -2.7 1.5M917.3 547.4q-1.5 1.6 -2.6 3.5M923.1 548.2q-0.6 1.1 -1.9 1.5M928.4 548.8q-0.9 1.4 -2.5 1.7M931.7 547.8q-0.2 1.6 0.6 3M938.8 547.7q-1.1 2.1 -3.5 2.4M942.3 546.5q-0.6 2.1 0.6 3.9M949 548.3q-1.3 0.4 -1.4 1.8M810.5 555.5q-2.3 -0.4 -3.2 -2.6M815.3 554.8q-1.2 -1.6 -2.8 -2.8M821 555.3q-1.1 -0.8 -2.5 -1.1M825.7 555.5q-1.5 -0.6 -2.8 -1.6M832 555.6q-1.1 -0.8 -1.6 -2M837.3 555q-1.9 -1.3 -1.8 -3.7M842 554q-0.5 -1.1 -1.6 -1.6M847.7 555.2q-2.2 0.6 -3.2 -1.5M852.6 554.9q-0 -2.2 -2.1 -2.8M858.7 552q-1 2 -3.2 1.9M864.5 554.5q-1.4 -0.3 -2.8 -0.7M870 553.4q-1.1 1.2 -2.8 1M874.9 552.1q-1 1 -1.6 2.4M881.1 553.1q-1.6 -0.2 -3.2 -0.2M886.9 554.3q-1.8 -0.3 -3.5 0.5M892.5 552.7q-1.1 1 -2.2 2.1M898 552.6q-2.5 -0 -3.1 2.4M902 551.8q-1.1 0.7 -1.1 2M908.3 551.4q-1.9 1.6 -1.2 3.9M914.7 553.3q-1.2 1.1 -2.7 1.7M920.6 554q-2.4 -0.9 -4.1 1M924.8 552.7q-1.6 0.5 -3.2 1.1M930.3 552.6q0.4 2.8 -2.4 3.7M936 551.3q-0.4 1.5 -0 3.1M941.1 553.2q-1.8 -0 -2.8 1.4M946.2 552.3q-1.3 1.6 0 3.2M807 559.4q-1.1 -1.4 -2.7 -2.1M810.9 558.9q-1.6 -0.6 -1.3 -2.4M817.5 559.6q-1.6 -1.5 -0.5 -3.4M823.3 559.5q0.2 -2.1 -1.5 -3.5M827.4 558.5q-1.2 -0.8 -1.2 -2.2M834.1 558.7q-2.2 -0.5 -3.7 -2.3M840.1 559q-1.8 -0.5 -3.6 -0.1M846.5 558q-0.9 -1.6 -2.7 -1.3M850.9 558.4q-1.9 -1.3 -3.2 0.5M856.1 559.1q-2.4 -0.1 -2.7 -2.5M862.1 557.2q-2.2 -0.3 -3.9 1M868.7 558.7q-1.5 -0.8 -3 -0.2M873.2 557.1q-1.5 0.2 -3 0.7M877.8 557.9q-1.6 -0.1 -2.8 -1.1M883.3 558.7q-1.3 -0.2 -2.6 -0.4M889.5 558.2q-0.9 1.3 -2.5 1.1M895.3 557.3q-1 0.8 -2.3 0.3M900.9 558q-2.2 0.1 -3.3 1.9M906.4 557q-0.9 1.2 -2.4 0.8M910.8 556.9q-1.1 1.6 -2.9 0.9M916.4 557.6q-0.3 2.9 -3.2 2.8M920.7 556.7q0.4 1.4 -0.5 2.4M927.3 555.9q0.2 1.7 -0.5 3.3M932.4 557.1q-0.8 1.3 -1.7 2.5M937 557q1.3 1.6 -0.3 2.9M944.6 556.9q-2 1.1 -1.2 3.2M949.1 557q-1.5 0.6 -2.1 2.2M808.8 564.2q-0 -2.1 -1.5 -3.6M816.5 563.3q-1 -2.1 -3.3 -2.4M819.8 565.5q-1.5 -1.5 -2.1 -3.6M825.9 565.3q0.6 -2.1 -1.3 -3.2M833.1 565q-2.6 -0.4 -3.1 -3M837.8 562.9q-1.9 1.8 -3.9 0.1M843.5 562.6q-1.9 0.8 -3.5 -0.5M847.7 564.6q-1.1 -0.9 -1.6 -2.3M853.9 563q-0.9 -0.9 -2.1 -1.7M858.6 561.2q-0.7 0.9 -1.8 1.3M864.2 564q-1.1 -0.7 -2.3 -0.4M870.5 563.1q-1.7 -2.1 -4 -0.8M875.7 561.9q-1.6 -0.1 -2.7 1.1M881.3 561.7q-2.7 0.2 -2.7 2.9M885.6 562.1q-0.6 1 -1.4 1.8M892.1 562.5q-2.4 -0.8 -3.4 1.5M896.1 560.5q-1.5 1.2 -1 3M903.9 562.6q-1.3 1.4 -3 0.5M908.3 560.8q0.2 1.4 -1 2M912.6 561.1q-1.6 1.4 -0.9 3.4M919.7 560.9q-2.4 -0.1 -3.1 2.2M925.8 562.3q-2.4 -0.9 -3.4 1.4M930.3 562.2q-0.1 2.3 -2.4 2.2M936.1 561.1q-1.1 1.2 -2.2 2.5M940.8 560.6q-2.6 0.2 -2.4 2.8M947.3 560.9q-1.6 1 -1.5 3M952 562.3q-0.7 1.4 -1.5 2.7M807 568.5q-1.7 1 -3 -0.5M813.1 567q-1.4 -0.7 -3 -0.8M818.7 567.8q-0.9 -1.7 -2.8 -1.2M822.3 567.8q-1.7 -1.1 -1.2 -3M827.7 569q-0.4 -1.2 -1.4 -1.9M833.6 567.9q-0.3 -1.5 -1.8 -1.4M839.3 567.5q-1.7 -0.1 -1.7 -1.8M845.8 568.7q-2.1 -0.8 -2.5 -3M850.2 567.8q-1.2 -1.5 -2.8 -0.6M856.6 566.6q-2.7 -0.8 -3.8 1.9M863 567.6q-1.6 -1.9 -4 -1.4M866.8 566.4q-2.3 -0.4 -2.9 1.8M873.9 566.6q-1.3 1.1 -2.9 0.3M879.1 567.1q-1.7 0.2 -2.7 1.5M883.9 566.3q-0.1 1.4 -1.5 1.9M890.4 566.9q-1.4 0.8 -2.9 0.8M894.3 567.8q-1.3 -0 -2.3 0.9M901.2 567.1q-2 -0.9 -3.5 0.8M907 566.4q-1.2 0.9 -2.7 1.4M910.9 566.4q-1.7 0.6 -1.8 2.4M917.8 567.2q-1.6 0 -2.9 0.9M921.1 565q-2 1.6 -0.7 3.9M926.6 565.8q-0.5 1.2 -0.4 2.5M933.6 564.6q0.4 2.2 -1.2 3.7M939.2 565.9q-0.3 1.4 -1.4 2.2M944 566.1q-1.1 0.5 -1.8 1.4M949.5 565.7q0.9 1.3 -0.3 2.4M808.4 572.8q-2 -0.3 -1.8 -2.3M814.2 573q0.9 -1.7 -0.6 -2.9M822.2 572.1q-2.1 1.4 -4 -0.4M826.7 571q-1.6 1.1 -3.1 0M832.6 573.8q-0.1 -2.4 -2.2 -3.7M837.6 573.1q-2.2 -0.5 -2.5 -2.6M843.3 572.3q-1.5 -1.3 -3.5 -1.3M848.1 573.2q-1.5 -0.1 -1.8 -1.6M852.6 572.2q-1.1 -0.9 -2 -2.1M859.8 571.5q-1.7 1.1 -3.8 0.9M865.5 571.3q-0.3 2.2 -2.5 2.3M871.5 570.1q-1.9 0.5 -3.5 1.7M876.1 571.4q-1.3 0.3 -2.6 0.5M880.4 571.2q-0.3 1.4 -1.7 1.9M886.6 570q-2.3 1.2 -2.1 3.8M892.9 571.1q-2.2 1.4 -4.3 0M898.3 572.5q-1.4 0.9 -2.7 -0.2M903.4 571.2q-2.1 0.2 -4.2 0.1M907.7 570q-1.6 1.1 -1.9 3.1M914.7 570.5q-0.9 1.4 -2.3 2.3M919.7 571.5q-1.4 0.5 -2.6 1.3M924.1 569.7q0.3 2 -1.7 2.5M930.6 571.2q-1.5 2.3 -3.9 0.9M935.1 570.4q-0.7 1.1 -1 2.3M941.4 570.4q0.9 1.4 -0.4 2.4M948.1 570.1q-0.6 2.5 -3.1 2.4M952.4 570.3q-1.1 1.7 -3.1 2.2M807.2 577.3q-2.1 -0.5 -3 -2.5M813.4 578.7q-0.1 -2.9 -3 -3.1M818 577.7q-2.2 1.1 -3.9 -0.8M822.8 577.8q-1.9 -1 -1.9 -3.2M829.6 577.6q-1.3 -0.1 -2 -1.1M833.7 577.7q0.1 -2.1 -1.7 -3.1M839 576.7q-1.6 -0.3 -2.3 -1.9M845.1 575.7q-1.7 0 -3.4 -0.6M851.5 575q-1.4 1.4 -3.3 1.7M856.4 575.8q-1 0.7 -2.3 0.5M861.7 574.6q-0.4 2.2 -2.6 1.9M868.7 575.8q-1.4 1.8 -3.3 0.5M872.6 576.8q-1.6 0.6 -3.3 0.2M879.7 576.7q-1.7 -1.9 -4 -0.7M884.8 576q-1.7 0.4 -3.1 1.2M889.5 577.1q-1.1 -0.7 -2.3 -0.3M895.1 576.6q-1.2 -0.1 -2.3 -0.2M899.9 575.8q0.1 2.1 -1.9 2.9M906.6 575.9q-1.7 -0.7 -2.8 0.8M911.2 575.1q-2.3 -0.4 -3.9 1.3M917 574.7q-1.1 2.3 -3.5 1.5M922.4 574.8q0.3 1.7 -0.5 3.2M927.2 576.9q-1.2 0.3 -2.4 0.4M932.1 575.2q-0 1.5 -0.6 2.9M939.3 574.7q-2.8 0.1 -3.2 2.9M944.4 575.7q-0.3 1.3 -0.8 2.6M949.9 574.5q-0.1 2.3 -1.8 4M816 580.2q-1.1 -1.1 -2.6 -0.7M902.7 579.6q-1.9 -0.9 -3.2 0.7M926.1 579.6q-2.1 -0.8 -3.7 0.7" stroke="#000" stroke-width="2.0" fill="none" clip-path="url(#texc)"/>
<path d="M797 583.5L797 553Q797 550.5 800 550.5L846 550.5" stroke="#fff" stroke-width="2" fill="none" />
<path d="M797 474.5L846 474.5" stroke="#fff" stroke-width="2" />
<circle cx="862.2" cy="513.1" r="38.6" stroke="#fff" stroke-width="1" fill="#fff" />
<circle cx="862.2" cy="513.1" r="35.6" stroke="#000" stroke-width="1.5" fill="none" stroke-dasharray="5 3.2" style="stroke-linecap:butt"/>
<circle cx="862.2" cy="513.1" r="32.3" stroke="#000" stroke-width="1.1" fill="none" stroke-dasharray="7 2 2 2" style="stroke-linecap:butt"/>
<circle cx="862.2" cy="513.1" r="28.6" stroke="#000" stroke-width="1.4" fill="none" />
<path d="M857.7 487.5L860.8 487.1L864 487.2L867.2 487.6L870.2 488.4L873.2 489.5L876 491.1L878.6 492.9L880.9 495L883 497.5L884.7 500.1L886.1 502.9L887.2 505.9L887.9 509L888.2 512.2L888.1 515.4L887.6 518.5L874.9 515.8L875.2 514.2L875.2 512.6L875 511.1L874.7 509.5L874.2 508L873.5 506.6L872.6 505.3L871.6 504.1L870.4 503L869.1 502.1L867.7 501.3L866.2 500.7L864.7 500.3L863.1 500.1L861.5 500.1L859.9 500.3Z" stroke="#000" stroke-width="0.5" fill="#000" />
<path d="M866.7 538.7L863.4 539.1L860.2 539L856.9 538.6L853.7 537.7L850.7 536.4L847.8 534.8L845.2 532.8L842.9 530.5L840.8 527.9L839.1 525.1L837.8 522.1L836.9 518.9L836.3 515.7L836.2 512.4L836.5 509.1L837.2 505.9L849.7 509.5L849.4 511.1L849.2 512.8L849.3 514.4L849.5 516L850 517.6L850.7 519.1L851.5 520.5L852.5 521.8L853.7 522.9L855 523.9L856.5 524.8L858 525.4L859.6 525.8L861.2 526.1L862.8 526.1L864.5 525.9Z" stroke="#000" stroke-width="0.5" fill="#000" />
<path d="M846.7 507.5L847.5 505.6L848.5 503.9L849.7 502.4L851.1 500.9L852.6 499.7L854.3 498.6L856.1 497.8L857.9 497.2" stroke="#000" stroke-width="0.9" fill="none" />
<path d="M877.7 518.7L876.9 520.6L875.9 522.3L874.7 523.8L873.3 525.3L871.8 526.5L870.1 527.6L868.3 528.4L866.5 529" stroke="#000" stroke-width="0.9" fill="none" />
<path d="M843.9 506.4L844.8 504.3L846 502.3L847.4 500.4L849 498.7L850.8 497.2L852.8 496L854.9 495L857.2 494.3" stroke="#000" stroke-width="0.9" fill="none" />
<path d="M880.5 519.8L879.6 521.9L878.4 523.9L877 525.8L875.4 527.5L873.6 529L871.6 530.2L869.5 531.2L867.2 531.9" stroke="#000" stroke-width="0.9" fill="none" />
<path d="M841.1 505.4L842.1 502.9L843.5 500.6L845.1 498.5L847 496.5L849.1 494.8L851.4 493.4L853.8 492.2L856.4 491.4" stroke="#000" stroke-width="0.9" fill="none" />
<path d="M883.3 520.8L882.3 523.3L880.9 525.6L879.3 527.7L877.4 529.7L875.3 531.4L873 532.8L870.6 534L868 534.8" stroke="#000" stroke-width="0.9" fill="none" />
<circle cx="862.2" cy="513.1" r="12.8" stroke="#000" stroke-width="1" fill="#000" />
<circle cx="862.2" cy="513.1" r="11" stroke="#fff" stroke-width="2.1" fill="none" />
<path d="M855.7 516.9L854.8 514.6L854.8 512.1L855.5 509.8L856.9 507.8L858.9 506.4L861.2 505.7L863.7 505.7L866 506.6" stroke="#fff" stroke-width="1.5" fill="none" />
<path d="M869.2 510.5L869.7 512.4L869.6 514.4L869 516.3L867.9 517.9L866.5 519.2L864.8 520.1L862.9 520.6L860.9 520.5" stroke="#fff" stroke-width="1" fill="none" stroke-dasharray="2 1.5" style="stroke-linecap:butt"/>
<path d="M861.4 517.5L860 517L858.9 516.1L858.1 514.9L857.7 513.5L857.8 512L858.4 510.7L859.4 509.6L860.7 508.9" stroke="#fff" stroke-width="1" fill="none" />
<circle cx="859.7" cy="511.6" r="1" stroke="#fff" stroke-width="0.8" fill="#fff" />
<circle cx="863.7" cy="514.9" r="1.2" stroke="#fff" stroke-width="0.8" fill="#fff" />
<path d="M826.6 543L824.8 540.7L823.1 538.3L821.6 535.8L820.3 533.2L819.1 530.5L818.1 527.8L817.2 525L816.6 522.1L816.1 519.2L815.8 516.3L821.8 515.9L822.1 518.5L822.5 521L823 523.4L823.8 525.9L824.6 528.3L825.7 530.6L826.8 532.9L828.2 535L829.6 537.1L831.2 539.1Z" stroke="#fff" stroke-width="1" fill="#fff" />
<path d="M828.8 537.4L825.2 540M825.9 532.8L822 534.9M823.6 527.9L819.5 529.5M822 522.7L817.8 523.8M821.1 517.4L816.8 517.9" stroke="#000" stroke-width="1.6" fill="none" />
<path d="M816 508.2L816.4 505.3L816.9 502.5L817.7 499.7L818.6 496.9L819.7 494.2L821 491.6L822.4 489L824 486.6L825.8 484.2L827.6 482L832.1 486L830.5 487.9L828.9 490L827.6 492.1L826.3 494.3L825.2 496.6L824.2 499L823.4 501.4L822.8 503.9L822.3 506.3L821.9 508.9Z" stroke="#fff" stroke-width="1" fill="#fff" />
<path d="M821.5 505.9L817.2 505.2M822.8 500.7L818.6 499.4M824.8 495.6L820.8 493.8M827.4 490.9L823.7 488.5M830.6 486.6L827.2 483.7" stroke="#000" stroke-width="1.6" fill="none" />
<path d="M818.7 513.7L814.7 516.9L814.3 521.9L809.2 521.8L805.7 525.4L801.9 522.1L796.8 522.5L796 517.5L791.9 514.6L794.5 510.3L793.2 505.4L798 503.8L800.1 499.2L804.8 501L809.4 498.9L811.8 503.3L816.7 504.6L815.8 509.6Z" stroke="#fff" stroke-width="1.5" fill="#fff" />
<circle cx="811" cy="515.5" r="1.9" stroke="#000" stroke-width="0.5" fill="#000" />
<circle cx="806.9" cy="518.9" r="1.9" stroke="#000" stroke-width="0.5" fill="#000" />
<circle cx="801.8" cy="517.3" r="1.9" stroke="#000" stroke-width="0.5" fill="#000" />
<circle cx="797.5" cy="514.2" r="1.9" stroke="#000" stroke-width="0.5" fill="#000" />
<circle cx="798.6" cy="507.8" r="1.9" stroke="#000" stroke-width="0.5" fill="#000" />
<circle cx="804.1" cy="504.8" r="1.9" stroke="#000" stroke-width="0.5" fill="#000" />
<circle cx="809.3" cy="505.5" r="1.9" stroke="#000" stroke-width="0.5" fill="#000" />
<circle cx="812.4" cy="509.4" r="1.9" stroke="#000" stroke-width="0.5" fill="#000" />
<circle cx="805.2" cy="511.8" r="2.3" stroke="#000" stroke-width="0.5" fill="#000" />
<circle cx="785.3" cy="513.2" r="4.3" stroke="#fff" stroke-width="2.3" fill="#000" />
<path d="M796.2 527.4L793.6 525.6L791.4 523.4L789.6 520.8L788.3 518L787.5 514.9L787.2 511.8" stroke="#fff" stroke-width="2" fill="none" />
<path d="M474.5 653.4L468.8 658.3L473.8 661.3L467.1 664.6L471.2 668.8L463.8 670.2L466.7 675.4L459.2 674.8L460.6 680.6L453.6 678.1L453.4 684L447.3 679.8L445.6 685.5L440.7 679.8L437.7 684.8L434.4 678.1L430.2 682.2L428.8 674.8L423.6 677.7L424.2 670.2L418.4 671.6L420.9 664.6L415 664.4L419.2 658.3L413.5 656.6L419.2 651.7L414.2 648.7L420.9 645.4L416.8 641.2L424.2 639.8L421.3 634.6L428.8 635.2L427.4 629.4L434.4 631.9L434.6 626L440.7 630.2L442.4 624.5L447.3 630.2L450.3 625.2L453.6 631.9L457.8 627.8L459.2 635.2L464.4 632.3L463.8 639.8L469.6 638.4L467.1 645.4L473 645.6L468.8 651.7Z" stroke="#fff" stroke-width="2.3" fill="none" />
<path d="M436 637.5Q446 634.5 455 638" stroke="#fff" stroke-width="2.2" fill="none" />
<path d="M438 637.8L441 637.5" stroke="#fff" stroke-width="2.9" />
<text class="lb" x="478" y="637" font-size="16.7" textLength="15" lengthAdjust="spacingAndGlyphs" >1,0</text>
<text class="lb" x="498" y="660" font-size="13.6" textLength="9" lengthAdjust="spacingAndGlyphs" >11</text>
<path d="M474 659Q486 662 490 658L497 655" stroke="#fff" stroke-width="2.1" fill="none" />
<path d="M474 659Q488 662 486 668Q474 674 474 683Q476 692 483 690Q488 688 486 682L490 681.4L568.6 681.4L568.6 689.4" stroke="#fff" stroke-width="2.3" fill="none" />
<rect x="568.6" y="689.4" width="49.2" height="6.4" rx="0" fill="#fff" stroke="none"/>
<path d="M571 690.6L616 690.6" stroke="#000" stroke-width="1.2" stroke-dasharray="2.2 1.3" style="stroke-linecap:butt"/>
<path d="M614.8 695.5L614.8 715" stroke="#fff" stroke-width="2.3" />
<path d="M449 715L615 715" stroke="#fff" stroke-width="2.3" />
<path d="M449 715L448.5 707Q447 704 441 706Q436 710 433 707Q433 702 440 698Q446 694 445.5 688L444.5 682" stroke="#fff" stroke-width="2.3" fill="none" />
<text class="lb" x="400" y="710.5" font-size="16.7" textLength="30" lengthAdjust="spacingAndGlyphs" >24a</text>
<circle cx="518.5" cy="705.5" r="19" stroke="#fff" stroke-width="2.3" fill="#000" />
<circle cx="518.3" cy="697.8" r="2.4" stroke="#fff" stroke-width="1" fill="#fff" />
<path d="M518 698Q526 699 530 693" stroke="#fff" stroke-width="2" fill="none" />
<path d="M512.3 698.5L519.3 714.5" stroke="#fff" stroke-width="2.1" />
<path d="M516.5 698.5L520.8 713.5" stroke="#fff" stroke-width="1.5" />
<circle cx="510" cy="715.5" r="1.6" stroke="#fff" stroke-width="1.3" fill="none" />
<circle cx="528.5" cy="715.5" r="1.6" stroke="#fff" stroke-width="1.3" fill="none" />
<text class="lb" x="537.5" y="695.5" font-size="13.8" textLength="19.1" lengthAdjust="spacingAndGlyphs" >.30</text>
<text class="lb" x="538.5" y="730.6" font-size="15.3" textLength="17.1" lengthAdjust="spacingAndGlyphs" >26</text>
<path d="M528.5 717Q532 722 538 722.5" stroke="#fff" stroke-width="1.7" fill="none" />
<text class="lb" x="526.5" y="668" font-size="15.2" textLength="20.1" lengthAdjust="spacingAndGlyphs" >25</text>
<path d="M529.5 672Q523 675 521.5 680.5" stroke="#fff" stroke-width="1.8" fill="none" />
<text class="lb" x="632" y="690" font-size="15.2" textLength="21" lengthAdjust="spacingAndGlyphs" >22</text>
<path d="M629 686L619 691" stroke="#fff" stroke-width="1.8" />
<text class="lb" x="628" y="711.5" font-size="13.6" textLength="19" lengthAdjust="spacingAndGlyphs" >24</text>
<path d="M617 708.5L623 708.5" stroke="#fff" stroke-width="1.8" />
<clipPath id="f4a"><path d="M896 664H953Q955 664 955 666V680H959V692H967.5V727H864V695Q864 689 870 689H880L892 697V682H894.5V666Q894.5 664 896 664Z"/></clipPath>
<path d="M896 664H953Q955 664 955 666V680H959V692H967.5V719H963V727.5H868V719H864V695Q864 689 870 689H878Q883 689 884 694L886 698L892 697.5V682H894.5V666Q894.5 664 896 664Z" stroke="#fff" stroke-width="1.5" fill="#fff" />
<clipPath id="f4h1"><path d="M896.5 666.5H916V700L905 697L893.5 696V683H896.5Z"/></clipPath>
<path d="M854 664L890 700M858.6 664L894.6 700M863.2 664L899.2 700M867.8 664L903.8 700M872.4 664L908.4 700M877 664L913 700M881.6 664L917.6 700M886.2 664L922.2 700M890.8 664L926.8 700M895.4 664L931.4 700M900 664L936 700M904.6 664L940.6 700M909.2 664L945.2 700M913.8 664L949.8 700M918.4 664L954.4 700M923 664L959 700M927.6 664L963.6 700M932.2 664L968.2 700M936.8 664L972.8 700M941.4 664L977.4 700M946 664L982 700M950.6 664L986.6 700M955.2 664L991.2 700" stroke="#000" stroke-width="1.7" fill="none" clip-path="url(#f4h1)"/>
<clipPath id="f4h2"><path d="M936 666.5H953V681.5H957.5V693H962V699H944L936 690Z"/></clipPath>
<path d="M894 664L930 700M898.6 664L934.6 700M903.2 664L939.2 700M907.8 664L943.8 700M912.4 664L948.4 700M917 664L953 700M921.6 664L957.6 700M926.2 664L962.2 700M930.8 664L966.8 700M935.4 664L971.4 700M940 664L976 700M944.6 664L980.6 700M949.2 664L985.2 700M953.8 664L989.8 700M958.4 664L994.4 700M963 664L999 700M967.6 664L1003.6 700M972.2 664L1008.2 700M976.8 664L1012.8 700M981.4 664L1017.4 700M986 664L1022 700M990.6 664L1026.6 700M995.2 664L1031.2 700M999.8 664L1035.8 700" stroke="#000" stroke-width="1.7" fill="none" clip-path="url(#f4h2)"/>
<rect x="920.5" y="670.5" width="7" height="37" rx="1.5" fill="#000" stroke="none"/>
<path d="M913 667.3L918 667.3" stroke="#000" stroke-width="2" />
<path d="M923 667.3L930 667.3" stroke="#000" stroke-width="2" />
<circle cx="930.1" cy="685.4" r="0.9" stroke="#000" stroke-width="0.5" fill="#000" />
<circle cx="929.2" cy="694.4" r="0.9" stroke="#000" stroke-width="0.5" fill="#000" />
<circle cx="931.4" cy="679.7" r="0.9" stroke="#000" stroke-width="0.5" fill="#000" />
<circle cx="911.6" cy="698.4" r="0.9" stroke="#000" stroke-width="0.5" fill="#000" />
<circle cx="936" cy="694.4" r="0.9" stroke="#000" stroke-width="0.5" fill="#000" />
<circle cx="932.4" cy="674.4" r="0.9" stroke="#000" stroke-width="0.5" fill="#000" />
<circle cx="915.5" cy="677" r="0.9" stroke="#000" stroke-width="0.5" fill="#000" />
<circle cx="930" cy="672.2" r="0.9" stroke="#000" stroke-width="0.5" fill="#000" />
<circle cx="936.8" cy="695.7" r="0.9" stroke="#000" stroke-width="0.5" fill="#000" />
<circle cx="933.6" cy="684.1" r="0.9" stroke="#000" stroke-width="0.5" fill="#000" />
<circle cx="911.5" cy="674.3" r="0.9" stroke="#000" stroke-width="0.5" fill="#000" />
<circle cx="940" cy="691.6" r="0.9" stroke="#000" stroke-width="0.5" fill="#000" />
<circle cx="911.3" cy="683.6" r="0.9" stroke="#000" stroke-width="0.5" fill="#000" />
<circle cx="936" cy="677.1" r="0.9" stroke="#000" stroke-width="0.5" fill="#000" />
<circle cx="913.9" cy="697.3" r="0.9" stroke="#000" stroke-width="0.5" fill="#000" />
<circle cx="910.9" cy="679.8" r="0.9" stroke="#000" stroke-width="0.5" fill="#000" />
<clipPath id="f4h3"><path d="M866 692H882L886 700H866Z"/></clipPath>
<path d="M850 690L862 702M854.6 690L866.6 702M859.2 690L871.2 702M863.8 690L875.8 702M868.4 690L880.4 702M873 690L885 702M877.6 690L889.6 702M882.2 690L894.2 702M886.8 690L898.8 702M891.4 690L903.4 702M896 690L908 702M900.6 690L912.6 702" stroke="#000" stroke-width="1.8" fill="none" clip-path="url(#f4h3)"/>
<path d="M868.7 704.5L873.3 707.1M875.3 704.5L879.9 707.1M881.9 704.5L886.5 707.1M888.5 704.5L893.1 707.1M895.1 704.5L899.7 707.1M901.7 704.5L906.3 707.1M908.3 704.5L912.9 707.1" stroke="#000" stroke-width="2.6" fill="none" />
<path d="M931.7 704.5L936.3 707.1M938.3 704.5L942.9 707.1M944.9 704.5L949.5 707.1M951.5 704.5L956.1 707.1M958.1 704.5L962.7 707.1" stroke="#000" stroke-width="2.6" fill="none" />
<path d="M866.7 714.7L871.3 712.1M872.9 714.7L877.5 712.1M879.1 714.7L883.7 712.1M885.3 714.7L889.9 712.1M891.5 714.7L896.1 712.1M897.7 714.7L902.3 712.1M903.9 714.7L908.5 712.1M910.1 714.7L914.7 712.1" stroke="#000" stroke-width="2.6" fill="none" />
<path d="M933.7 714.7L938.3 712.1M939.9 714.7L944.5 712.1M946.1 714.7L950.7 712.1M952.3 714.7L956.9 712.1M958.5 714.7L963.1 712.1" stroke="#000" stroke-width="2.6" fill="none" />
<rect x="919" y="711.5" width="12" height="4" rx="0" fill="#000" stroke="none"/>
<rect x="921.5" y="712.5" width="3.5" height="2" rx="0" fill="#fff" stroke="none"/>
<path d="M868 720.5L880 720.5" stroke="#000" stroke-width="2.6" stroke-dasharray="4 2" style="stroke-linecap:butt"/>
<path d="M888 718.7L962 718.7" stroke="#000" stroke-width="1.4" stroke-dasharray="9 2 3 2" style="stroke-linecap:butt"/>
<path d="M895 723.5L960 723.5" stroke="#000" stroke-width="2.2" stroke-dasharray="1.8 3.2" style="stroke-linecap:butt"/>
<path d="M967 713L970 711.5L973 713L976 711.5L979 713L982 711.5L985 713L988 711.5L991 713L994 714L994 720Q990 722 986 721L972 722L967 722Z" stroke="#fff" stroke-width="1" fill="#fff" />
<text class="lb" x="876" y="656" font-size="15.2" textLength="19" lengthAdjust="spacingAndGlyphs" >35</text>
<path d="M897 655L903 661" stroke="#fff" stroke-width="1.8" />
<text class="lb" x="908" y="652" font-size="15.2" textLength="18" lengthAdjust="spacingAndGlyphs" >36</text>
<path d="M919 653.5L919.5 662" stroke="#fff" stroke-width="1.8" />
<text class="lb" x="960.5" y="655" font-size="13.6" textLength="18" lengthAdjust="spacingAndGlyphs" >34</text>
<path d="M957.5 650Q950 652 944.5 661" stroke="#fff" stroke-width="1.8" fill="none" />
<text class="lb" x="857" y="673" font-size="15.2" textLength="18" lengthAdjust="spacingAndGlyphs" >37</text>
<path d="M866 674L890 694" stroke="#fff" stroke-width="2" />
<text class="lb" x="836" y="689" font-size="15.2" textLength="19" lengthAdjust="spacingAndGlyphs" >32</text>
<path d="M850 690.5Q858 691 864 688.5Q872 687 878 689" stroke="#fff" stroke-width="1.8" fill="none" />
<text class="lb" x="967.5" y="680" font-size="13.6" textLength="19.1" lengthAdjust="spacingAndGlyphs" >33</text>
<path d="M966.5 677L954.5 679" stroke="#fff" stroke-width="1.8" />
<text class="lb" x="975.5" y="695" font-size="15.2" textLength="23.1" lengthAdjust="spacingAndGlyphs" >19a</text>
<path d="M973.5 689L960.5 689" stroke="#fff" stroke-width="1.8" />
<text class="lb" x="997.6" y="706" font-size="13.6" textLength="25.1" lengthAdjust="spacingAndGlyphs" >20a</text>
<path d="M997 700L968.5 699" stroke="#fff" stroke-width="1.8" />
<text class="lb" x="1001.6" y="718" font-size="13.6" textLength="17.1" lengthAdjust="spacingAndGlyphs" >23</text>
<path d="M1000.6 714.3L994.6 713.3" stroke="#fff" stroke-width="1.7" />
<text class="lb" x="998.6" y="734" font-size="15.2" textLength="17.1" lengthAdjust="spacingAndGlyphs" >22</text>
<path d="M998.6 724.3Q996 722 996.5 720Q994 719 993.6 717.3" stroke="#fff" stroke-width="1.6" fill="none" />
<text class="lb" x="854" y="743" font-size="15.2" textLength="18" lengthAdjust="spacingAndGlyphs" >18</text>
<path d="M869 731L874 726" stroke="#fff" stroke-width="1.8" />
<text class="lb" x="897" y="748" font-size="15.2" textLength="19" lengthAdjust="spacingAndGlyphs" >38</text>
<path d="M906 737Q904 732 905 727" stroke="#fff" stroke-width="1.7" fill="none" />
<text class="lb" x="865" y="769" font-size="16.7" textLength="17" lengthAdjust="spacingAndGlyphs" >19</text>
<path d="M878 756.4Q884 740 900 728" stroke="#fff" stroke-width="1.8" fill="none" />
<path d="M520 856H960Q968.8 856 968.8 864V956Q968.8 963.4 961 963.4H522Q516 962.6 516 956V861Q516 856 520 856Z" stroke="#fff" stroke-width="2.7" fill="none" />
<path d="M523.5 867H960Q965 867 965 872V954.5Q965 959.5 960 959.5H525Q520.8 958.8 520.8 954V870Q520.8 867 523.5 867Z" stroke="#fff" stroke-width="2.2" fill="none" />
<path d="M541 965L560 965" stroke="#fff" stroke-width="3.4" />
<path d="M573 965L593 965" stroke="#fff" stroke-width="3.4" />
<text class="lb" x="481" y="877" font-size="25.8" textLength="13" lengthAdjust="spacingAndGlyphs" >1</text>
<path d="M489 877Q494 878 505 877L528 877" stroke="#fff" stroke-width="1.8" fill="none" />
<ellipse cx="565.5" cy="914.2" rx="40.5" ry="36.7" stroke="#fff" stroke-width="2.4" fill="none" />
<ellipse cx="565.5" cy="914.2" rx="28.5" ry="26.8" stroke="#fff" stroke-width="3.2" fill="none" />
<path d="M538.1 913.3L538.2 911.3L538.6 909.3L539 907.4L539.7 905.5L540.5 903.6L541.4 901.8L542.5 900.1L543.7 898.5L545.1 897L546.6 895.5L548.2 894.2L549.9 893L551.7 891.9L553.6 891L555.5 890.2L557.5 889.5L559.6 889L561.7 888.7L564.1 904.8L563.3 905L562.6 905.1L561.8 905.4L561.1 905.7L560.4 906L559.8 906.4L559.1 906.9L558.6 907.3L558 907.9L557.5 908.4L557.1 909L556.7 909.7L556.3 910.3L556 911L555.8 911.7L555.6 912.4L555.5 913.1L555.4 913.9Z" stroke="#fff" stroke-width="0.5" fill="#fff" />
<path d="M591.6 922.2L591 923.7L590.3 925.1L589.6 926.6L588.7 927.9L587.8 929.3L586.7 930.5L585.6 931.7L584.4 932.9L583.1 933.9L581.8 934.9L580.4 935.8L578.9 936.7L577.4 937.4L575.9 938.1L574.3 938.6L572.7 939.1L571 939.5L569.3 939.7L566.9 923.6L567.5 923.5L568.1 923.3L568.7 923.2L569.3 923L569.9 922.7L570.4 922.5L571 922.2L571.5 921.8L572 921.5L572.4 921.1L572.9 920.6L573.3 920.2L573.7 919.7L574 919.2L574.3 918.7L574.6 918.2L574.9 917.7L575.1 917.1Z" stroke="#fff" stroke-width="0.5" fill="#fff" />
<path d="M552.1 912.9L552.5 910.9L553.2 909.1L554.2 907.3L555.5 905.8L557 904.4L558.8 903.3L560.7 902.4L562.7 901.9" stroke="#000" stroke-width="1.7" fill="none" />
<path d="M578 918.9L577.2 920.4L576.3 921.7L575.2 922.9L574 924L572.6 924.9L571.1 925.7L569.5 926.3L567.8 926.6" stroke="#000" stroke-width="1.7" fill="none" />
<path d="M548.2 912.5L548.7 910L549.6 907.6L550.9 905.3L552.6 903.3L554.6 901.5L556.8 900.1L559.3 899L561.9 898.3" stroke="#000" stroke-width="1.7" fill="none" />
<path d="M581.6 920.3L580.6 922.2L579.5 923.9L578 925.5L576.4 926.9L574.6 928.1L572.7 929L570.6 929.8L568.5 930.3" stroke="#000" stroke-width="1.7" fill="none" />
<path d="M544.3 912.1L544.9 909L546.1 906.1L547.7 903.3L549.7 900.8L552.1 898.7L554.9 896.9L557.9 895.5L561.1 894.6" stroke="#000" stroke-width="1.7" fill="none" />
<path d="M585.2 921.7L584.1 924L582.6 926.1L580.9 928L578.9 929.7L576.7 931.2L574.3 932.4L571.8 933.3L569.2 933.9" stroke="#000" stroke-width="1.7" fill="none" />
<path d="M540.4 911.7L541.2 908.1L542.5 904.6L544.4 901.3L546.8 898.4L549.6 895.8L552.9 893.7L556.5 892.1L560.3 891" stroke="#000" stroke-width="1.7" fill="none" />
<path d="M588.9 923.1L587.5 925.8L585.8 928.3L583.7 930.6L581.4 932.6L578.8 934.3L576 935.7L573 936.8L569.9 937.5" stroke="#000" stroke-width="1.7" fill="none" />
<ellipse cx="565.5" cy="913.4" rx="10.2" ry="8.8" stroke="#fff" stroke-width="2.7" fill="#000" />
<path d="M559.5 910.2L571.5 916.8" stroke="#fff" stroke-width="1.8" />
<path d="M558.5 912.8L570.5 919.4" stroke="#fff" stroke-width="1.8" />
<circle cx="591" cy="936.8" r="2.2" stroke="#fff" stroke-width="1.7" fill="none" />
<path d="M577 944.5Q586 943 589 939M593 935Q598 929 601 922" stroke="#fff" stroke-width="2.2" fill="none" />
<circle cx="600.5" cy="922.5" r="1.6" stroke="#fff" stroke-width="1.5" fill="#fff" />
<path d="M572 951.5L575 950.8" stroke="#000" stroke-width="1.5" />
<text class="lb" x="618.5" y="884" font-size="18.2" textLength="22.1" lengthAdjust="spacingAndGlyphs" >27</text>
<path d="M622.5 885Q615 890 603 890Q590 895 579 904" stroke="#fff" stroke-width="1.8" fill="none" />
<rect x="619.8" y="894.4" width="14.9" height="45.3" rx="1.5" stroke="#fff" stroke-width="2.4" fill="none" />
<rect x="677" y="894.4" width="16.5" height="45.3" rx="1.5" stroke="#fff" stroke-width="2.4" fill="none" />
<path d="M623.2 898L623.2 936" stroke="#fff" stroke-width="1.8" stroke-dasharray="4 2.4" style="stroke-linecap:butt"/>
<path d="M690 898L690 936" stroke="#fff" stroke-width="1.8" stroke-dasharray="4 2.4" style="stroke-linecap:butt"/>
<path d="M634.7 896Q640 886.5 656 886.5Q672 886.5 677 896" stroke="#fff" stroke-width="2.4" fill="none" />
<path d="M634.7 938.5L677 938.5" stroke="#fff" stroke-width="2.4" />
<circle cx="654.8" cy="894" r="3.4" stroke="#fff" stroke-width="1" fill="#fff" />
<circle cx="639.9" cy="927.3" r="3.4" stroke="#fff" stroke-width="1" fill="#fff" />
<circle cx="671.7" cy="926.2" r="3.4" stroke="#fff" stroke-width="1" fill="#fff" />
<ellipse cx="780.8" cy="915.4" rx="40.1" ry="37.8" stroke="#fff" stroke-width="2.4" fill="none" />
<path d="M820.2 917.3L812 916.9M819.6 922.4L811.4 920.9M818.2 927.3L810.4 924.8M816.2 932L808.7 928.5M813.4 936.4L806.6 931.9M810.1 940.4L803.9 935.1M806.2 943.9L800.9 937.8M801.9 946.9L797.4 940.2M797.1 949.3L793.7 942.1M792.1 951.1L789.7 943.5M786.8 952.2L785.5 944.4M781.4 952.6L781.3 944.7M776 952.3L777 944.5M770.8 951.4L772.9 943.7M765.6 949.8L768.8 942.5M760.8 947.5L765 940.7M756.4 944.6L761.5 938.4M752.4 941.2L758.3 935.7M748.9 937.3L755.6 932.7M746 933L753.3 929.3M743.8 928.4L751.6 925.7M742.3 923.5L750.4 921.8M741.4 918.5L749.7 917.9M741.4 913.5L749.6 913.9M742 908.4L750.2 909.9M743.4 903.5L751.2 906M745.4 898.8L752.9 902.3M748.2 894.4L755 898.9M751.5 890.4L757.7 895.7M755.4 886.9L760.7 893M759.7 883.9L764.2 890.6M764.5 881.5L767.9 888.7M769.5 879.7L771.9 887.3M774.8 878.6L776.1 886.4M780.2 878.2L780.3 886.1M785.6 878.5L784.6 886.3M790.8 879.4L788.7 887.1M796 881L792.8 888.3M800.8 883.3L796.6 890.1M805.2 886.2L800.1 892.4M809.2 889.6L803.3 895.1M812.7 893.5L806 898.1M815.6 897.8L808.3 901.5M817.8 902.4L810 905.1M819.3 907.3L811.2 909M820.2 912.3L811.9 912.9" stroke="#fff" stroke-width="2.3" fill="none" />
<ellipse cx="780.8" cy="914.8" rx="26.6" ry="25" stroke="#fff" stroke-width="2.7" fill="none" />
<path d="M755.6 911.5L756 909.3L756.6 907.2L757.5 905.2L758.5 903.2L759.7 901.4L761.1 899.6L762.6 898L764.3 896.5L766.2 895.2L768.1 894L770.2 893.1L772.4 892.2L774.6 891.6L776.9 891.2L779.2 890.9L781.5 890.9L783.8 891.1L786.1 891.4L782.7 906.2L781.9 906.1L781.1 906L780.2 906L779.4 906.1L778.5 906.3L777.7 906.5L776.9 906.8L776.2 907.2L775.4 907.6L774.8 908.1L774.1 908.6L773.6 909.2L773.1 909.9L772.6 910.6L772.2 911.3L771.9 912L771.7 912.8L771.5 913.6Z" stroke="#fff" stroke-width="0.5" fill="#fff" />
<path d="M803.9 924.9L803 926.5L802 928L800.9 929.5L799.7 930.8L798.4 932.1L797 933.3L795.4 934.4L793.8 935.3L792.2 936.2L790.4 936.9L788.7 937.5L786.8 938L785 938.4L783.1 938.6L781.2 938.7L779.3 938.7L777.4 938.5L775.5 938.2L778.9 923.4L779.5 923.5L780.2 923.6L780.9 923.6L781.6 923.5L782.3 923.5L783 923.3L783.7 923.2L784.3 922.9L785 922.7L785.6 922.3L786.2 922L786.7 921.6L787.3 921.2L787.7 920.7L788.2 920.2L788.6 919.7L789 919.1L789.3 918.5Z" stroke="#fff" stroke-width="0.5" fill="#fff" />
<path d="M769.1 912.5L769.8 910.5L770.8 908.6L772.2 907L773.9 905.6L775.9 904.6L778 903.9L780.2 903.6L782.5 903.7" stroke="#000" stroke-width="1.6" fill="none" />
<path d="M791.4 920.1L790.4 921.5L789.2 922.8L787.8 923.9L786.2 924.8L784.5 925.5L782.8 925.9L781 926L779.1 925.9" stroke="#000" stroke-width="1.6" fill="none" />
<path d="M766 911.9L766.9 909.3L768.2 907L770 904.9L772.2 903.2L774.6 901.9L777.3 901L780.1 900.7L782.9 900.8" stroke="#000" stroke-width="1.6" fill="none" />
<path d="M794.1 921.4L792.9 923.3L791.4 924.9L789.6 926.3L787.6 927.4L785.5 928.2L783.3 928.8L781 929L778.7 928.8" stroke="#000" stroke-width="1.6" fill="none" />
<path d="M763 911.2L764 908.2L765.6 905.4L767.8 902.9L770.4 900.8L773.3 899.2L776.6 898.2L779.9 897.7L783.3 897.9" stroke="#000" stroke-width="1.6" fill="none" />
<path d="M796.9 922.8L795.4 925L793.6 927L791.4 928.7L789.1 930L786.5 931L783.8 931.6L781 931.9L778.3 931.7" stroke="#000" stroke-width="1.6" fill="none" />
<path d="M759.9 910.6L761.1 907.1L763 903.8L765.5 900.8L768.6 898.4L772 896.6L775.8 895.3L779.8 894.8L783.8 895" stroke="#000" stroke-width="1.6" fill="none" />
<path d="M799.6 924.2L797.9 926.8L795.7 929.1L793.3 931L790.5 932.6L787.5 933.8L784.3 934.5L781.1 934.8L777.8 934.6" stroke="#000" stroke-width="1.6" fill="none" />
<path d="M757.1 910.1L758.5 906L760.6 902.3L763.5 899L766.9 896.2L770.9 894.1L775.2 892.7L779.6 892.1L784.2 892.3" stroke="#000" stroke-width="1.6" fill="none" />
<path d="M802.1 925.5L800.2 928.4L797.7 931L794.9 933.2L791.8 935L788.4 936.4L784.8 937.2L781.1 937.5L777.4 937.3" stroke="#000" stroke-width="1.6" fill="none" />
<ellipse cx="779.8" cy="913.8" rx="8.6" ry="6.6" stroke="#fff" stroke-width="2.9" fill="#000" transform="rotate(35 779.8 913.8)"/>
<path d="M777.6 911.2L777.2 915.8" stroke="#fff" stroke-width="1.7" />
<path d="M780.2 911.2L779.8 917.2" stroke="#fff" stroke-width="1.7" />
<path d="M782.8 912.2L782.4 917.8" stroke="#fff" stroke-width="1.7" />
<circle cx="795.7" cy="901.7" r="2.9" stroke="#fff" stroke-width="2" fill="#000" />
<circle cx="766" cy="928.7" r="2.9" stroke="#fff" stroke-width="2" fill="#000" />
<path d="M764.5 931.5L760 946" stroke="#fff" stroke-width="2.2" />
<text class="lb" x="815" y="951" font-size="15.2" textLength="18" lengthAdjust="spacingAndGlyphs" >28</text>
<path d="M801 936L814 942" stroke="#fff" stroke-width="1.8" />
<circle cx="843.4" cy="898" r="19" stroke="#fff" stroke-width="2.2" fill="none" />
<circle cx="843.4" cy="898" r="13" stroke="#fff" stroke-width="2.2" fill="none" />
<circle cx="843.4" cy="898" r="6.6" stroke="#fff" stroke-width="2.2" fill="none" />
<circle cx="843.8" cy="898.5" r="1.5" stroke="#fff" stroke-width="1" fill="#fff" />
<text class="lb" x="840" y="933" font-size="15.2" textLength="18" lengthAdjust="spacingAndGlyphs" >29</text>
<path d="M843 900Q838 910 838 916Q838 921 841 923" stroke="#fff" stroke-width="1.8" fill="none" />
<ellipse cx="911.6" cy="915.1" rx="39.6" ry="37.9" stroke="#fff" stroke-width="2.3" fill="none" />
<ellipse cx="911.6" cy="915.1" rx="36" ry="34.2" stroke="#fff" stroke-width="2.1" fill="none" />
<path d="M879 921.5L944 921.5" stroke="#fff" stroke-width="2.2" />
<path d="M883.7 906.5Q909 884 937.4 904.3" stroke="#fff" stroke-width="3.7" fill="none" />
<path d="M884.5 907L886 911M889.5 903L890.5 906.5M896 899L897 902.5M903 896.5L903.5 900M910 895.5L910 899M917 896.5L916.6 900M924 898.5L923 902M931 902L929.6 905.5M937 904.5L935.4 908.5" stroke="#fff" stroke-width="1.9"/>
<path d="M897.5 902L904.2 917.6" stroke="#fff" stroke-width="2.2" />
<path d="M904.2 917.6L944 913.2" stroke="#fff" stroke-width="2" />
<circle cx="910.8" cy="890.5" r="1.9" stroke="#fff" stroke-width="1" fill="#fff" />
<path d="M888.7 930.3L928 930.3" stroke="#fff" stroke-width="1.8" stroke-dasharray="5 1.5 8 1.5 3 1.5" style="stroke-linecap:butt"/>
<path d="M899 938L924.6 938" stroke="#fff" stroke-width="1.8" stroke-dasharray="4 1.5 2 1.5 5 1.5" style="stroke-linecap:butt"/>
<text class="lb" x="977.8" y="883" font-size="15.2" textLength="19.1" lengthAdjust="spacingAndGlyphs" >24</text>
<path d="M976 878L958 877" stroke="#fff" stroke-width="1.8" />
<text class="lb" x="976.8" y="901" font-size="15.2" textLength="18.1" lengthAdjust="spacingAndGlyphs" >30</text>
<path d="M974.8 895Q940 894 912.6 890" stroke="#fff" stroke-width="1.8" fill="none" />
<text class="lb" x="978.8" y="916" font-size="13.6" textLength="30.2" lengthAdjust="spacingAndGlyphs" >26a</text>
<path d="M977.8 911L944 913.5" stroke="#fff" stroke-width="1.8" />
<text class="lb" x="979.8" y="942" font-size="16.7" textLength="17.1" lengthAdjust="spacingAndGlyphs" >26</text>
<path d="M978.8 934Q960 933 946.7 921" stroke="#fff" stroke-width="1.8" fill="none" />
<text class="lb" x="856" y="883" font-size="12.1" textLength="20.5" lengthAdjust="spacingAndGlyphs" >24a</text>
<path d="M857 884Q862 890 868 884Q875 880 884 886" stroke="#fff" stroke-width="1.7" fill="none" />
<text class="lb" x="805" y="885" font-size="15.2" textLength="11" lengthAdjust="spacingAndGlyphs" >17</text>
<text class="lb" x="818" y="885" font-size="15.2" textLength="13" lengthAdjust="spacingAndGlyphs" >18</text>
<text class="lb" x="718.8" y="887" font-size="16.7" textLength="24.2" lengthAdjust="spacingAndGlyphs" >16a</text>
<path d="M744 878Q760 872 772 862" stroke="#fff" stroke-width="1.8" fill="none" />
<text class="lb" x="721.9" y="905" font-size="15.2" textLength="11" lengthAdjust="spacingAndGlyphs" >5</text>
<path d="M734 899Q748 888 760 874L772 866" stroke="#fff" stroke-width="1.8" fill="none" />
<text class="lb" x="959.7" y="846" font-size="15.2" textLength="17.1" lengthAdjust="spacingAndGlyphs" >22</text>
<path d="M969 847Q972 852 969 856.6" stroke="#fff" stroke-width="1.7" fill="none" />
<path d="M626.4 725.4H764.5V739.4H626.4Q623.8 732.6 626.4 725.4Z" stroke="#fff" stroke-width="1" fill="#fff" />
<path d="M631.6 731.8L631.6 737.1M635.1 731.8L635.1 737.1M638.5 731.8L638.5 737.1M642 731.8L642 737.1M645.4 731.8L645.4 737.1M648.9 731.8L648.9 737.1M652.3 731.8L652.3 737.1M655.8 731.8L655.8 737.1M659.2 731.8L659.2 737.1M662.7 731.8L662.7 737.1M666.1 731.8L666.1 737.1M669.6 731.8L669.6 737.1M673 731.8L673 737.1M676.5 731.8L676.5 737.1M679.9 731.8L679.9 737.1M683.4 731.8L683.4 737.1M686.8 731.8L686.8 737.1M690.3 731.8L690.3 737.1M693.7 731.8L693.7 737.1M697.2 731.8L697.2 737.1M700.6 731.8L700.6 737.1M704.1 731.8L704.1 737.1M707.5 731.8L707.5 737.1" stroke="#000" stroke-width="1.9" fill="none" />
<path d="M654.4 728.5L708.4 728.5" stroke="#000" stroke-width="1.5" stroke-dasharray="6 4 3 5" style="stroke-linecap:butt"/>
<rect x="633.7" y="739.4" width="77.3" height="9.9" rx="0" fill="#fff" stroke="none"/>
<rect x="637.3" y="741.2" width="72.7" height="6.5" rx="0" fill="#000" stroke="none"/>
<path d="M673.1 742.2v4M677.3 741.8v6M682.5 741.8v6M687.7 742.2v4M693.9 742.2v3" stroke="#fff" stroke-width="1.3"/>
<rect x="635.2" y="749.3" width="75.8" height="7.3" rx="0" fill="#fff" stroke="none"/>
<path d="M648.2 751.5L708.4 751.5" stroke="#000" stroke-width="1.7" stroke-dasharray="14 3 22 3" style="stroke-linecap:butt"/>
<path d="M639.9 754.8L708.4 754.8" stroke="#000" stroke-width="1.7" stroke-dasharray="18 3 9 3" style="stroke-linecap:butt"/>
<rect x="638.9" y="756" width="72.1" height="10.4" rx="0" fill="#fff" stroke="none"/>
<rect x="645.1" y="758.1" width="5.2" height="7.3" rx="1" fill="#000" stroke="none"/>
<rect x="651.5" y="758.1" width="18" height="7.3" rx="1" fill="#000" stroke="none"/>
<rect x="672.1" y="758.1" width="29.1" height="7.3" rx="1" fill="#000" stroke="none"/>
<rect x="703.2" y="758.1" width="6.7" height="7.3" rx="1" fill="#000" stroke="none"/>
<rect x="637" y="766.4" width="74" height="7.3" rx="0" fill="#fff" stroke="none"/>
<circle cx="645.1" cy="770" r="2.5" stroke="#000" stroke-width="0.5" fill="#000" />
<circle cx="651.9" cy="770" r="2.5" stroke="#000" stroke-width="0.5" fill="#000" />
<circle cx="660.7" cy="770" r="2.5" stroke="#000" stroke-width="0.5" fill="#000" />
<circle cx="671.1" cy="770" r="2.5" stroke="#000" stroke-width="0.5" fill="#000" />
<circle cx="680.9" cy="770" r="2.5" stroke="#000" stroke-width="0.5" fill="#000" />
<circle cx="689.2" cy="770" r="2.5" stroke="#000" stroke-width="0.5" fill="#000" />
<circle cx="699.1" cy="770" r="2.5" stroke="#000" stroke-width="0.5" fill="#000" />
<circle cx="707.9" cy="770" r="2.5" stroke="#000" stroke-width="0.5" fill="#000" />
<path d="M637 773.1H711V782H646.1Z" stroke="#fff" stroke-width="1" fill="#fff" />
<path d="M649.3 778.5L708.4 778.5" stroke="#000" stroke-width="3.6" stroke-dasharray="36 3 22 3" style="stroke-linecap:butt"/>
<path d="M641 775.2L708.4 775.2" stroke="#000" stroke-width="1.4" stroke-dasharray="5 4" style="stroke-linecap:butt"/>
<rect x="645.9" y="781.4" width="65.6" height="47.8" rx="0" fill="#fff" stroke="none"/>
<rect x="652.6" y="783" width="57.9" height="45.2" rx="0" fill="#000" stroke="none"/>
<path d="M649.3 783.5L649.3 827.1" stroke="#000" stroke-width="2.2" stroke-dasharray="5 2.5" style="stroke-linecap:butt"/>
<path d="M666.9 783L666.9 826.9" stroke="#fff" stroke-width="2.2" />
<path d="M690 792L690 825" stroke="#fff" stroke-width="2.2" />
<path d="M652.6 792.3Q673.1 792.3 693.9 785.6Q703.2 782.5 710.5 783" stroke="#fff" stroke-width="2.1" fill="none" />
<path d="M657 806.9L659.6 808.4" stroke="#fff" stroke-width="1.8" />
<path d="M646.1 829H772.7V854.6H625.4L629 846.8L633.7 843.7V835.9Z" stroke="#fff" stroke-width="1" fill="#fff" />
<path d="M647.7 832.8L717.8 832.8" stroke="#000" stroke-width="2.6" stroke-dasharray="36 3 30 3" style="stroke-linecap:butt"/>
<rect x="719.3" y="830.9" width="52.6" height="4.8" rx="1" fill="#000" stroke="none"/>
<rect x="637.3" y="836.7" width="29.6" height="5.8" rx="1" fill="#000" stroke="none"/>
<rect x="669.2" y="836.7" width="31.1" height="5.8" rx="1" fill="#000" stroke="none"/>
<rect x="703.4" y="836.7" width="25.7" height="5.8" rx="1" fill="#000" stroke="none"/>
<rect x="731.3" y="836.7" width="27.5" height="5.8" rx="1" fill="#000" stroke="none"/>
<rect x="634.7" y="847" width="31.1" height="5.2" rx="1" fill="#000" stroke="none"/>
<rect x="668.2" y="847" width="76.6" height="5.2" rx="1" fill="#000" stroke="none"/>
<rect x="746" y="847" width="26" height="5.2" rx="1" fill="#000" stroke="none"/>
<path d="M645.1 839.1l4 2M673.1 839.1h6M703.2 838.7v4M698 849.4v3M737.5 849.4v3" stroke="#fff" stroke-width="1.5"/>
<text class="lb" x="680.7" y="707" font-size="15.2" textLength="10" lengthAdjust="spacingAndGlyphs" >8</text>
<path d="M679.7 709Q681 716 678.7 725" stroke="#fff" stroke-width="1.8" fill="none" />
<text class="lb" x="600.4" y="750" font-size="15.2" textLength="16.1" lengthAdjust="spacingAndGlyphs" >10</text>
<path d="M618.5 746Q626 748 634.6 744" stroke="#fff" stroke-width="1.8" fill="none" />
<text class="lb" x="598.4" y="777" font-size="15.2" textLength="16.1" lengthAdjust="spacingAndGlyphs" >13</text>
<path d="M616 772Q626 774 634.6 770" stroke="#fff" stroke-width="1.8" fill="none" />
<text class="lb" x="617.5" y="794" font-size="15.2" textLength="8" lengthAdjust="spacingAndGlyphs" >6</text>
<path d="M626.5 792L640 792" stroke="#fff" stroke-width="1.8" />
<text class="lb" x="608.5" y="815" font-size="15.2" textLength="9" lengthAdjust="spacingAndGlyphs" >2</text>
<path d="M620.5 811.4Q630 812 638.6 810" stroke="#fff" stroke-width="1.8" fill="none" />
<path d="M710.6 721L710.6 731" stroke="#fff" stroke-width="2" />
<rect x="710.9" y="739.4" width="43.1" height="72.1" rx="0" fill="#fff" stroke="none"/>
<rect x="713" y="729.5" width="41" height="16.6" rx="0" fill="#fff" stroke="none"/>
<clipPath id="x1"><path d="M714 730.6H752.9V745.6H714Z"/></clipPath>
<path d="M714 730.6H752.9V745.6H714Z" stroke="#000" stroke-width="0.5" fill="#000" />
<path d="M712 729.6L695 746.6M717 729.6L700 746.6M722 729.6L705 746.6M727 729.6L710 746.6M732 729.6L715 746.6M737 729.6L720 746.6M742 729.6L725 746.6M747 729.6L730 746.6M752 729.6L735 746.6M757 729.6L740 746.6M762 729.6L745 746.6M767 729.6L750 746.6M772 729.6L755 746.6M777 729.6L760 746.6M782 729.6L765 746.6M787 729.6L770 746.6" stroke="#fff" stroke-width="1.1" fill="none" clip-path="url(#x1)"/>
<rect x="714.5" y="730.6" width="8.8" height="14.5" rx="2" fill="#000" stroke="none"/>
<path d="M715.6 733.2h6M716.6 736.3h5M715.6 739.9h6M719.7 742h3M720.2 734.7h3" stroke="#fff" stroke-width="2"/>
<rect x="713" y="748" width="38.9" height="2.1" rx="0" fill="#000" stroke="none"/>
<rect x="713" y="751.5" width="37.9" height="2.1" rx="2" fill="#000" stroke="none"/>
<path d="M714 756H750.9V766.9H714Z" stroke="#fff" stroke-width="1" fill="#fff" />
<clipPath id="x2"><path d="M731.1 756H750.9V766.9H731.1Z"/></clipPath>
<path d="M731.1 756H750.9V766.9H731.1Z" stroke="#000" stroke-width="0.5" fill="#000" />
<path d="M716.2 755L729.1 767.9M721.2 755L734.1 767.9M726.2 755L739.1 767.9M731.2 755L744.1 767.9M736.2 755L749.1 767.9M741.2 755L754.1 767.9M746.2 755L759.1 767.9M751.2 755L764.1 767.9M756.2 755L769.1 767.9M761.2 755L774.1 767.9" stroke="#fff" stroke-width="1.1" fill="none" clip-path="url(#x2)"/>
<path d="M714 760.7Q731.1 759.1 741.5 763.8Q731.1 767.4 714 766.9Z" stroke="#000" stroke-width="0.5" fill="#000" />
<path d="M717.6 758.1L731.1 758.1" stroke="#000" stroke-width="1.6" />
<rect x="713" y="769" width="36.9" height="2.6" rx="2" fill="#000" stroke="none"/>
<rect x="713.5" y="773.7" width="35.3" height="1.6" rx="2" fill="#000" stroke="none"/>
<circle cx="749.8" cy="770.2" r="1.6" stroke="#000" stroke-width="0.5" fill="#000" />
<path d="M713 785.6Q731.1 773.1 751.9 781.4V805.3H713Z" stroke="#fff" stroke-width="1" fill="#fff" />
<clipPath id="x3"><path d="M714 786.6Q731.1 777.3 749.8 784.6V804.3H714Z"/></clipPath>
<path d="M714 786.6Q731.1 777.3 749.8 784.6V804.3H714Z" stroke="#000" stroke-width="0.5" fill="#000" />
<path d="M684.9 777.3L713 805.3M690.1 777.3L718.2 805.3M695.3 777.3L723.4 805.3M700.5 777.3L728.6 805.3M705.7 777.3L733.8 805.3M710.9 777.3L739 805.3M716.1 777.3L744.2 805.3M721.3 777.3L749.4 805.3M726.5 777.3L754.6 805.3M731.7 777.3L759.8 805.3M736.9 777.3L765 805.3M742.1 777.3L770.2 805.3M747.3 777.3L775.4 805.3M752.5 777.3L780.6 805.3M757.7 777.3L785.8 805.3M762.9 777.3L791 805.3M768.1 777.3L796.2 805.3M773.3 777.3L801.4 805.3M778.5 777.3L806.6 805.3" stroke="#fff" stroke-width="1.1" fill="none" clip-path="url(#x3)"/>
<path d="M713.1 794.1L715.6 789.5L719 785.6L723 782.7L727.5 780.9L732.2 780.3L736.9 780.9L741.4 782.7L745.4 785.6L748.7 789.5L751.2 794.1" stroke="#000" stroke-width="2" fill="none" stroke-dasharray="2.5 1.6" style="stroke-linecap:butt"/>
<rect x="710.4" y="806.1" width="41.5" height="4.9" rx="0" fill="#fff" stroke="none"/>
<rect x="713.3" y="811.8" width="59.9" height="17.4" rx="0" fill="#000" stroke="none"/>
<rect x="754" y="725.4" width="8.3" height="81" rx="0" fill="#fff" stroke="none"/>
<path d="M756.4 738.9L756.4 804.3" stroke="#000" stroke-width="2.4" stroke-dasharray="3 1.6 5 1.4" style="stroke-linecap:butt"/>
<path d="M760 741L760 781.4" stroke="#000" stroke-width="2.2" stroke-dasharray="4 1.5" style="stroke-linecap:butt"/>
<rect x="710.9" y="724.9" width="61.8" height="3.4" rx="0" fill="#fff" stroke="none"/>
<path d="M713.5 726.6L766.4 726.6" stroke="#000" stroke-width="1.4" />
<rect x="762.3" y="725.4" width="16.6" height="23.9" rx="0" fill="#fff" stroke="none"/>
<rect x="771.6" y="726.4" width="3.9" height="22.8" rx="2" fill="#000" stroke="none"/>
<rect x="763.3" y="729.5" width="7.3" height="11.4" rx="0" fill="#000" stroke="none"/>
<rect x="764.4" y="730.6" width="4.2" height="5.2" rx="0" fill="#fff" stroke="none"/>
<rect x="765.6" y="731.6" width="2.1" height="3.1" rx="0" fill="#000" stroke="none"/>
<rect x="762.3" y="749.3" width="16.6" height="34.3" rx="0" fill="#fff" stroke="none"/>
<path d="M766.4 750.3L766.4 782.5" stroke="#000" stroke-width="3" stroke-dasharray="3 1.6" style="stroke-linecap:butt"/>
<path d="M772.7 750.3L772.7 782.5" stroke="#000" stroke-width="3.2" stroke-dasharray="4 1.4" style="stroke-linecap:butt"/>
<circle cx="766.4" cy="763.8" r="2.3" stroke="#000" stroke-width="0.5" fill="#000" />
<circle cx="762.3" cy="773.1" r="1.8" stroke="#000" stroke-width="0.5" fill="#000" />
<rect x="763.5" y="783" width="14.5" height="21.3" rx="0" fill="#fff" stroke="none"/>
<clipPath id="x4"><path d="M764.6 784H777.3V803.2H764.6Z"/></clipPath>
<path d="M764.6 784H777.3V803.2H764.6Z" stroke="#000" stroke-width="0.5" fill="#000" />
<path d="M762.6 783L741.4 804.2M767.6 783L746.4 804.2M772.6 783L751.4 804.2M777.6 783L756.4 804.2M782.6 783L761.4 804.2M787.6 783L766.4 804.2M792.6 783L771.4 804.2M797.6 783L776.4 804.2M802.6 783L781.4 804.2M807.6 783L786.4 804.2M812.6 783L791.4 804.2M817.6 783L796.4 804.2" stroke="#fff" stroke-width="1.1" fill="none" clip-path="url(#x4)"/>
<rect x="762.3" y="806.9" width="12.7" height="12.5" rx="0" fill="#000" stroke="none"/>
<rect x="777" y="749.3" width="9.3" height="115.7" rx="0" fill="#fff" stroke="none"/>
<path d="M779.9 751.3L779.9 864.5" stroke="#000" stroke-width="1.8" stroke-dasharray="2.5 2.5" style="stroke-linecap:butt"/>
<path d="M783.6 777.3L783.6 829.2" stroke="#000" stroke-width="3" />
<path d="M779.9 727.2H794.5Q797.8 728 797.8 731.6V737.3H793.4V748.2H779.9Z" stroke="#fff" stroke-width="1" fill="#fff" />
<rect x="782" y="729.5" width="2.3" height="15.6" rx="0" fill="#000" stroke="none"/>
<rect x="784.3" y="729.5" width="6" height="1.9" rx="0" fill="#000" stroke="none"/>
<circle cx="791.4" cy="734.2" r="1.5" stroke="#000" stroke-width="0.5" fill="#000" />
<rect x="777" y="749.3" width="16.4" height="14.5" rx="0" fill="#fff" stroke="none"/>
<rect x="778.9" y="751.3" width="10.4" height="2.3" rx="0" fill="#000" stroke="none"/>
<rect x="787.2" y="753.6" width="1.9" height="5" rx="0" fill="#000" stroke="none"/>
<rect x="779.9" y="756" width="5.2" height="1.6" rx="0" fill="#000" stroke="none"/>
<rect x="778.9" y="760.7" width="4.2" height="12.5" rx="0" fill="#000" stroke="none"/>
<circle cx="782" cy="767.4" r="2" stroke="#fff" stroke-width="0.5" fill="#fff" />
<rect x="786.2" y="763.8" width="19.7" height="13.5" rx="0" fill="#fff" stroke="none"/>
<rect x="788.2" y="766.9" width="7.3" height="2.1" rx="0" fill="#000" stroke="none"/>
<rect x="799.7" y="769" width="3.1" height="6.7" rx="0" fill="#000" stroke="none"/>
<rect x="786.2" y="773.1" width="16.1" height="51.9" rx="0" fill="#fff" stroke="none"/>
<rect x="783" y="777.3" width="3.3" height="51.9" rx="0" fill="#000" stroke="none"/>
<path d="M789.1 778.3L789.1 823" stroke="#000" stroke-width="3.6" stroke-dasharray="4.2 2" style="stroke-linecap:butt"/>
<path d="M798.1 778.3L798.1 823" stroke="#000" stroke-width="3.6" stroke-dasharray="4.2 2" style="stroke-linecap:butt"/>
<rect x="791.9" y="777.3" width="3.1" height="41.5" rx="0" fill="#000" stroke="none"/>
<path d="M802.3 777.3L802.3 819.8" stroke="#fff" stroke-width="2" />
<rect x="772.7" y="825" width="56.1" height="40" rx="0" fill="#fff" stroke="none"/>
<rect x="773.2" y="829.2" width="3.8" height="20.8" rx="0" fill="#000" stroke="none"/>
<path d="M775.2 830.2L775.2 848.9" stroke="#fff" stroke-width="1.7" stroke-dasharray="3 2" style="stroke-linecap:butt"/>
<rect x="787.4" y="829.2" width="14.8" height="20.8" rx="0" fill="#000" stroke="none"/>
<path d="M790.3 829.2L799.7 829.2L799.7 848.9Z" stroke="#fff" stroke-width="1" fill="#fff" />
<rect x="791.4" y="831.3" width="6.2" height="8.3" rx="0" fill="#000" stroke="none"/>
<path d="M789.3 832.3L789.3 850" stroke="#fff" stroke-width="2.7" stroke-dasharray="3 2" style="stroke-linecap:butt"/>
<rect x="802.8" y="825" width="7.3" height="18.7" rx="0" fill="#fff" stroke="none"/>
<path d="M806.4 827.1L806.4 864.5" stroke="#000" stroke-width="2.6" stroke-dasharray="3.2 2" style="stroke-linecap:butt"/>
<rect x="810" y="819.3" width="18.7" height="25.4" rx="0" fill="#fff" stroke="none"/>
<clipPath id="x5"><path d="M811.1 820.4H827.7V843.7H811.1Z"/></clipPath>
<path d="M811.1 820.4H827.7V843.7H811.1Z" stroke="#000" stroke-width="0.5" fill="#000" />
<path d="M783.7 819.4L809.1 844.7M788.7 819.4L814.1 844.7M793.7 819.4L819.1 844.7M798.7 819.4L824.1 844.7M803.7 819.4L829.1 844.7M808.7 819.4L834.1 844.7M813.7 819.4L839.1 844.7M818.7 819.4L844.1 844.7M823.7 819.4L849.1 844.7M828.7 819.4L854.1 844.7M833.7 819.4L859.1 844.7M838.7 819.4L864.1 844.7M843.7 819.4L869.1 844.7M848.7 819.4L874.1 844.7M853.7 819.4L879.1 844.7" stroke="#fff" stroke-width="1.1" fill="none" clip-path="url(#x5)"/>
<rect x="819.4" y="830.2" width="5.2" height="5.2" rx="0" fill="#fff" stroke="none"/>
<rect x="828.7" y="819.8" width="10.4" height="22.8" rx="0" fill="#000" stroke="none"/>
<rect x="787.4" y="850" width="41.3" height="15.1" rx="0" fill="#fff" stroke="none"/>
<path d="M789.3 854.1L804.8 854.1" stroke="#000" stroke-width="2.4" stroke-dasharray="2.2 2" style="stroke-linecap:butt"/>
<path d="M791.4 860.3L803.8 860.3" stroke="#000" stroke-width="2.6" stroke-dasharray="3 2" style="stroke-linecap:butt"/>
<path d="M793.4 850L801.7 864.5" stroke="#000" stroke-width="2" />
<path d="M797.1 850L803.8 862.4" stroke="#000" stroke-width="2" />
<path d="M797.4 854.7l1.6 1.6M801.1 861.5v0.9M807.7 851.2v2.5M777.8 834.8l0.9 0.9M803 831.9v2M777.4 859.6v1.2M809 859.7l1 1M794.7 852.3l0.8 0.8M799.6 863.2v2.5M782 829.1l1 1M777.4 852.3v1.5M803.7 844.8v1.4M800 828.8v2.7M801.5 858.6l0.6 0.6M777.6 828.4l0.8 0.8M783.7 855.2l1.8 1.8M794.2 856l0.7 0.7M803 859.2l0.6 0.6M780.3 839.5l1.4 1.4M788.3 861.6v1.8M779.9 832.2l1.5 1.5M782.5 828.4l1.9 1.9M796.5 857.9v1.7M779.1 861.3v0.9M804.3 831.5l1.5 1.5M797.6 856.5v1M782.1 858.6v1.4M809.5 858.9v2.7M793 854.2v1.7M789.5 864l1.8 1.8M780.2 836.9l1.6 1.6M789 856.4l1.6 1.6M798.7 855.4l1.1 1.1M786.4 845l1.6 1.6M786.8 862.4l1.4 1.4M777.7 847.3l0.9 0.9M792.2 857.5l1.4 1.4M788.5 851l1.5 1.5M788.6 858.5l1.7 1.7M808.8 862.8l1.3 1.3M782.7 858.3v2.6M799.6 853.9v2.2M802.5 848.6v2.1M797.4 855.9l1.4 1.4M778.2 832.7l1.2 1.2M784.4 852.6v2M779.1 831.7v1.4M783.6 827.9v1.7M785 860.8v0.8M786.3 842.1l0.7 0.7M789.4 828v2M796 862.9v2.4M803.5 850.9v1.5M808.1 863.3v2M806.1 826.6l0.7 0.7" stroke="#000" stroke-width="2.2" fill="none" />
<path d="M730.1 825.6L772.7 853.1" stroke="#fff" stroke-width="2.2" />
<path d="M713.5 829.2L778.9 865" stroke="#fff" stroke-width="2.2" />
<rect x="700" y="829.2" width="72.7" height="1.2" rx="0" fill="#fff" stroke="none"/>
<text class="lb" x="735" y="700" font-size="15.2" textLength="12" lengthAdjust="spacingAndGlyphs" >3</text>
<path d="M739 702Q733 722 728 738" stroke="#fff" stroke-width="1.8" fill="none" />
<text class="lb" x="794" y="716" font-size="21.2" textLength="9" lengthAdjust="spacingAndGlyphs" >7</text>
<path d="M795 717L786 726" stroke="#fff" stroke-width="1.8" />
<text class="lb" x="812" y="737" font-size="15.2" textLength="16" lengthAdjust="spacingAndGlyphs" >10</text>
<path d="M811 735L798 738" stroke="#fff" stroke-width="1.8" />
<text class="lb" x="815" y="751" font-size="15.2" textLength="12" lengthAdjust="spacingAndGlyphs" >11</text>
<path d="M813 747L794 749" stroke="#fff" stroke-width="1.8" />
<text class="lb" x="814" y="764" font-size="15.2" textLength="13" lengthAdjust="spacingAndGlyphs" >12</text>
<path d="M812 758L794 760" stroke="#fff" stroke-width="1.8" />
<text class="lb" x="819" y="777" font-size="15.2" textLength="13" lengthAdjust="spacingAndGlyphs" >14</text>
<path d="M817 771L806 770" stroke="#fff" stroke-width="1.8" />
<text class="lb" x="824" y="789" font-size="15.2" textLength="13" lengthAdjust="spacingAndGlyphs" >13</text>
<path d="M823 783Q812 778 805 776" stroke="#fff" stroke-width="1.8" fill="none" />
<text class="lb" x="810" y="800" font-size="13.6" textLength="23" lengthAdjust="spacingAndGlyphs" >14a</text>
<path d="M809 795L802 794" stroke="#fff" stroke-width="1.8" />
<text class="lb" x="821" y="812" font-size="15.2" textLength="11" lengthAdjust="spacingAndGlyphs" >16</text>
<path d="M824 813Q820 818 818 821" stroke="#fff" stroke-width="1.7" fill="none" />
<text class="lb" x="723" y="827" font-size="13.6" textLength="8" lengthAdjust="spacingAndGlyphs" >4</text>
<text class="lb" x="748" y="821" font-size="16.7" textLength="13" lengthAdjust="spacingAndGlyphs" >15</text>
<path d="M762 820Q768 824 773 823" stroke="#fff" stroke-width="1.8" fill="none" />
<rect x="838.8" y="809.5" width="62.3" height="11.6" rx="3" fill="#fff" stroke="none"/>
<path d="M842.5 817L890.2 817" stroke="#000" stroke-width="2.4" stroke-dasharray="1.6 2.4" style="stroke-linecap:butt"/>
<path d="M854.9 815.2L875.7 815.2" stroke="#000" stroke-width="3.2" stroke-dasharray="1.5 1.6" style="stroke-linecap:butt"/>
<rect x="843.5" y="821.5" width="52.9" height="5.2" rx="0" fill="#fff" stroke="none"/>
<rect x="844.5" y="822.2" width="49.8" height="3.7" rx="0" fill="#000" stroke="none"/>
<rect x="836.2" y="826.7" width="67.7" height="9.7" rx="3" fill="#fff" stroke="none"/>
<path d="M839.6 831.9L888.1 831.9" stroke="#000" stroke-width="5" stroke-dasharray="2 1.45" style="stroke-linecap:butt"/>
<path d="M888.1 831.5L896.4 832.2" stroke="#000" stroke-width="1.6" />
<path d="M837.3 836H903.2L913 846.9V873.9H823.8V849L830 843.8Z" stroke="#fff" stroke-width="1" fill="#fff" />
<path d="M842.5 841.2l5 -3v3zM852.8 841.2l7 -3v3zM864.3 841.2l7 -3v3zM878.8 841.2l7 -3v3zM890.2 842.2h4M897.5 842.2h4" stroke="#000" stroke-width="1.6" fill="#000"/>
<rect x="825.8" y="847.9" width="66.4" height="3.7" rx="2" fill="#000" stroke="none"/>
<circle cx="895.4" cy="849.8" r="1.7" stroke="#000" stroke-width="0.5" fill="#000" />
<circle cx="899.6" cy="849.8" r="1.3" stroke="#000" stroke-width="0.5" fill="#000" />
<path d="M825.6 857.3L830.2 854.8M831.2 857.3L835.8 854.8M836.8 857.3L841.4 854.8M842.4 857.3L847 854.8M848 857.3L852.6 854.8M853.6 857.3L858.2 854.8" stroke="#000" stroke-width="2.6" fill="none" />
<path d="M879.6 857.3L884.2 854.8M885.2 857.3L889.8 854.8M890.8 857.3L895.4 854.8M896.4 857.3L901 854.8M902 857.3L906.6 854.8" stroke="#000" stroke-width="2.6" fill="none" />
<rect x="865.3" y="854.4" width="6.2" height="2.9" rx="1" fill="#000" stroke="none"/>
<path d="M836.2 860.9L876.7 860.9" stroke="#000" stroke-width="1.7" stroke-dasharray="18 2" style="stroke-linecap:butt"/>
<path d="M886.1 860.6L902.7 860.6" stroke="#000" stroke-width="2.2" />
<path d="M845.6 865.6L894.4 865.6" stroke="#000" stroke-width="3.6" stroke-dasharray="2.6 4.2" style="stroke-linecap:butt"/>
<path d="M896.4 861.4L896.4 867.7" stroke="#000" stroke-width="1.8" />
<path d="M905.8 861.4L905.8 868.2" stroke="#000" stroke-width="2" />
<path d="M905.8 868.2L913 868.2" stroke="#000" stroke-width="2" />
<rect x="832.1" y="869.1" width="60.2" height="2.9" rx="2" fill="#000" stroke="none"/>
<path d="M907.3 857.3L910.5 855L913.6 857.3L916.7 855L919.8 857.3L922.9 855L926 857.3L929.1 855L932.3 857.3L935.4 855L938.5 857.3L941.6 855L944.7 857.3L947.8 855L950.9 857.3L954.1 855L957.2 857.3L960.3 855L963.4 857.3L966.5 855L969.6 857.3L968.6 857.3V879.1H959.8V873.1H907.3Z" stroke="#fff" stroke-width="1" fill="#fff" />
<path d="M912 858.1L963.9 858.1" stroke="#000" stroke-width="1.7" stroke-dasharray="1.6 4.6" style="stroke-linecap:butt"/>
<rect x="920.5" y="865.6" width="35.3" height="4.4" rx="2" fill="#000" stroke="none"/>
<rect x="917.2" y="873.6" width="41" height="4.5" rx="0" fill="#000" stroke="none"/>
<path d="M962.1 862.5L966.1 860.3" stroke="#000" stroke-width="2.6" fill="none" />
<path d="M961.9 862.6L966.3 860.2" stroke="#000" stroke-width="2.6" fill="none" />
<path d="M961.5 866.4L965.9 864" stroke="#000" stroke-width="2.6" fill="none" />
<path d="M961.1 870.1L965.5 867.7" stroke="#000" stroke-width="2.6" fill="none" />
<path d="M960.7 873.9L965.1 871.4" stroke="#000" stroke-width="2.6" fill="none" />
<path d="M960.3 877.6L964.7 875.2" stroke="#000" stroke-width="2.6" fill="none" />
<circle cx="909.9" cy="863.5" r="1.6" stroke="#000" stroke-width="0.5" fill="#000" />
<circle cx="917.7" cy="865.8" r="1.5" stroke="#000" stroke-width="0.5" fill="#000" />
<text class="lb" x="848.5" y="795" font-size="15.2" textLength="13.1" lengthAdjust="spacingAndGlyphs" >21</text>
<path d="M850.8 796L820 840.5" stroke="#fff" stroke-width="1.8" />
<text class="lb" x="878.6" y="794" font-size="15.2" textLength="19.1" lengthAdjust="spacingAndGlyphs" >'20</text>
<path d="M887.7 796Q890 804 884.7 808.5" stroke="#fff" stroke-width="1.8" fill="none" />
<text class="lb" x="949" y="809.5" font-size="16.5" textLength="16" lengthAdjust="spacingAndGlyphs" >19</text>
<path d="M947.3 809.5Q930 815 912 853" stroke="#fff" stroke-width="1.8" fill="none" />
<text class="lb" x="907.7" y="815" font-size="14.4" textLength="25.1" lengthAdjust="spacingAndGlyphs" >20a</text>
<path d="M917.7 815.8Q921 824 914 832Q908 838 912 845" stroke="#fff" stroke-width="1.8" fill="none" />
<text class="lb" x="926.5" y="831.5" font-size="12.9" textLength="15.5" lengthAdjust="spacingAndGlyphs" >25</text>
<path d="M931.7 833.4Q927 842 927.6 855" stroke="#fff" stroke-width="1.8" fill="none" />
<text class="lb" x="946" y="831.5" font-size="12.9" textLength="16" lengthAdjust="spacingAndGlyphs" >23</text>
<path d="M951.5 832.4Q947 846 938 855" stroke="#fff" stroke-width="1.8" fill="none" />
<path d="M588.2 1013L588.2 1036" stroke="#fff" stroke-width="2.2" />
<path d="M588.2 1040L588.2 1186" stroke="#fff" stroke-width="2" />
<path d="M588.2 1188L588.2 1201" stroke="#fff" stroke-width="2.2" />
<path d="M504.3 1052.3H658.8V1068.7H504.3Q497.3 1061.3 504.3 1052.3Z" stroke="#fff" stroke-width="1" fill="#fff" />
<path d="M506.3 1059.3L506.3 1064.3M508.8 1059.3L508.8 1064.3M511.3 1059.3L511.3 1064.3M513.8 1059.3L513.8 1064.3M516.3 1059.3L516.3 1064.3M518.8 1059.3L518.8 1064.3M521.3 1059.3L521.3 1064.3M523.8 1059.3L523.8 1064.3M526.3 1059.3L526.3 1064.3M528.8 1059.3L528.8 1064.3M531.3 1059.3L531.3 1064.3M533.8 1059.3L533.8 1064.3M536.3 1059.3L536.3 1064.3M538.8 1059.3L538.8 1064.3M541.3 1059.3L541.3 1064.3M543.8 1059.3L543.8 1064.3M546.3 1059.3L546.3 1064.3M548.8 1059.3L548.8 1064.3M551.3 1059.3L551.3 1064.3M553.8 1059.3L553.8 1064.3M556.3 1059.3L556.3 1064.3M558.8 1059.3L558.8 1064.3M561.3 1059.3L561.3 1064.3M563.8 1059.3L563.8 1064.3M566.3 1059.3L566.3 1064.3M568.8 1059.3L568.8 1064.3M571.3 1059.3L571.3 1064.3M573.8 1059.3L573.8 1064.3M576.3 1059.3L576.3 1064.3M578.8 1059.3L578.8 1064.3M581.3 1059.3L581.3 1064.3M583.8 1059.3L583.8 1064.3" stroke="#000" stroke-width="1.5" fill="none" />
<path d="M520.3 1055.3L584.6 1055.3" stroke="#000" stroke-width="1.4" stroke-dasharray="4 2.5" style="stroke-linecap:butt"/>
<path d="M508.3 1066.7L586.6 1066.7" stroke="#000" stroke-width="1.2" stroke-dasharray="5 2" style="stroke-linecap:butt"/>
<rect x="514.7" y="1068.7" width="73.4" height="14" rx="0" fill="#fff" stroke="none"/>
<rect x="520.3" y="1071.9" width="9" height="4" rx="1" fill="#000" stroke="none"/>
<rect x="531.4" y="1071.9" width="11" height="4" rx="1" fill="#000" stroke="none"/>
<rect x="544.8" y="1071.9" width="19.7" height="4" rx="1" fill="#000" stroke="none"/>
<rect x="566.5" y="1071.9" width="20.5" height="4" rx="1" fill="#000" stroke="none"/>
<rect x="529.4" y="1078.4" width="6" height="3.2" rx="1" fill="#000" stroke="none"/>
<rect x="538.4" y="1078.4" width="22.1" height="3.2" rx="1" fill="#000" stroke="none"/>
<rect x="562.9" y="1078.4" width="24.1" height="3.2" rx="1" fill="#000" stroke="none"/>
<rect x="511.9" y="1082.8" width="76.3" height="12" rx="0" fill="#fff" stroke="none"/>
<rect x="521.3" y="1087.4" width="8" height="6" rx="1" fill="#000" stroke="none"/>
<rect x="531.4" y="1087.4" width="12.6" height="6" rx="1" fill="#000" stroke="none"/>
<rect x="546" y="1087.4" width="18.5" height="6" rx="1" fill="#000" stroke="none"/>
<rect x="566.5" y="1087.4" width="20.5" height="6" rx="1" fill="#000" stroke="none"/>
<path d="M514.3 1085L586.6 1085" stroke="#000" stroke-width="1.3" stroke-dasharray="6 2" style="stroke-linecap:butt"/>
<rect x="512.3" y="1094.8" width="75.9" height="7.6" rx="0" fill="#fff" stroke="none"/>
<circle cx="514.3" cy="1098.4" r="2.2" stroke="#000" stroke-width="0.5" fill="#000" />
<circle cx="523.4" cy="1098.4" r="2.2" stroke="#000" stroke-width="0.5" fill="#000" />
<circle cx="531.4" cy="1098.4" r="2.2" stroke="#000" stroke-width="0.5" fill="#000" />
<circle cx="540" cy="1098.4" r="2.2" stroke="#000" stroke-width="0.5" fill="#000" />
<circle cx="548.4" cy="1098.4" r="2.2" stroke="#000" stroke-width="0.5" fill="#000" />
<circle cx="557.1" cy="1098.4" r="2.2" stroke="#000" stroke-width="0.5" fill="#000" />
<circle cx="565.5" cy="1098.4" r="2.2" stroke="#000" stroke-width="0.5" fill="#000" />
<circle cx="574.5" cy="1098.4" r="2.2" stroke="#000" stroke-width="0.5" fill="#000" />
<circle cx="583.6" cy="1098.4" r="2.2" stroke="#000" stroke-width="0.5" fill="#000" />
<path d="M514.3 1102H588.2V1111.5H521.3Z" stroke="#fff" stroke-width="1" fill="#fff" />
<rect x="529.4" y="1104.9" width="6" height="4.8" rx="1" fill="#000" stroke="none"/>
<rect x="537.4" y="1104.9" width="13" height="4.8" rx="1" fill="#000" stroke="none"/>
<rect x="552.5" y="1104.9" width="28.1" height="4.8" rx="1" fill="#000" stroke="none"/>
<rect x="582.6" y="1104.9" width="4.4" height="4.8" rx="1" fill="#000" stroke="none"/>
<rect x="520.9" y="1110.5" width="67.2" height="73.9" rx="0" fill="#fff" stroke="none"/>
<rect x="530" y="1112.9" width="57" height="69.4" rx="0" fill="#000" stroke="none"/>
<path d="M525.4 1113.5L525.4 1180.7" stroke="#000" stroke-width="1.6" />
<path d="M540.4 1112.9L540.4 1182.3" stroke="#fff" stroke-width="2.3" />
<path d="M563.5 1120.5L563.5 1173.1" stroke="#fff" stroke-width="2.3" />
<path d="M516.3 1183.1L662.8 1183.1" stroke="#fff" stroke-width="2.9" />
<rect x="516.3" y="1178.7" width="13" height="7" rx="0" fill="#fff" stroke="none"/>
<rect x="534.4" y="1180.3" width="6" height="4.8" rx="0" fill="#fff" stroke="none"/>
<circle cx="522.7" cy="1182.3" r="1.2" stroke="#000" stroke-width="0.5" fill="#000" />
<circle cx="537.4" cy="1182.7" r="1" stroke="#000" stroke-width="0.5" fill="#000" />
<rect x="587.3" y="1051.1" width="68.5" height="132.9" rx="0" fill="#fff" stroke="none"/>
<rect x="589.7" y="1053.6" width="12.5" height="16.5" rx="1" fill="#000" stroke="none"/>
<rect x="604.3" y="1053.6" width="16.6" height="16.5" rx="1" fill="#000" stroke="none"/>
<rect x="623.4" y="1053.6" width="10.5" height="16.5" rx="1" fill="#000" stroke="none"/>
<rect x="636.4" y="1053.6" width="4.8" height="16.5" rx="1" fill="#000" stroke="none"/>
<rect x="598.4" y="1073.3" width="18.4" height="14.3" rx="1" fill="#000" stroke="none"/>
<rect x="619.4" y="1073.3" width="9.8" height="14.3" rx="1" fill="#000" stroke="none"/>
<rect x="631.9" y="1073.3" width="3.7" height="14.3" rx="1" fill="#000" stroke="none"/>
<rect x="637.8" y="1074.7" width="4.2" height="14.5" rx="0" fill="#000" stroke="none"/>
<rect x="592.1" y="1090" width="19.1" height="7.2" rx="1" fill="#000" stroke="none"/>
<rect x="614.6" y="1090" width="9.1" height="7.2" rx="1" fill="#000" stroke="none"/>
<rect x="626.2" y="1090" width="3.3" height="7.2" rx="1" fill="#000" stroke="none"/>
<rect x="590.8" y="1099.4" width="51.2" height="2.5" rx="2" fill="#000" stroke="none"/>
<rect x="590.1" y="1104.4" width="27.7" height="4.8" rx="2" fill="#000" stroke="none"/>
<rect x="620.1" y="1104.4" width="9.7" height="4.8" rx="2" fill="#000" stroke="none"/>
<circle cx="632.6" cy="1106.8" r="2" stroke="#000" stroke-width="0.5" fill="#000" />
<rect x="589.7" y="1112.5" width="42.6" height="18.3" rx="2" fill="#000" stroke="none"/>
<path d="M598.4 1119.4h2M603.9 1119h2M607.4 1116.9h3M614.3 1116.9h3M607.4 1123.1h3M614.3 1123.1h3M607.4 1126.6h3M614.3 1126.6h3" stroke="#fff" stroke-width="1.5"/>
<rect x="590.5" y="1133.2" width="40.4" height="8.9" rx="2" fill="#000" stroke="none"/>
<rect x="614" y="1134.2" width="1.9" height="6.2" rx="0" fill="#fff" stroke="none"/>
<rect x="623.3" y="1134.2" width="1.8" height="6.2" rx="0" fill="#fff" stroke="none"/>
<circle cx="597" cy="1137.6" r="1" stroke="#fff" stroke-width="0.5" fill="#fff" />
<clipPath id="f3h"><path d="M635.7 1116.9L644.7 1110H651.7V1126.6L640.6 1135.6H635.7Z"/></clipPath>
<path d="M633.7 1108.6L606 1136.3M638.3 1108.6L610.6 1136.3M642.9 1108.6L615.2 1136.3M647.5 1108.6L619.8 1136.3M652.1 1108.6L624.4 1136.3M656.7 1108.6L629 1136.3M661.3 1108.6L633.6 1136.3M665.9 1108.6L638.2 1136.3M670.5 1108.6L642.8 1136.3M675.1 1108.6L647.4 1136.3M679.7 1108.6L652 1136.3M684.3 1108.6L656.6 1136.3M688.9 1108.6L661.2 1136.3M693.5 1108.6L665.8 1136.3M698.1 1108.6L670.4 1136.3M702.7 1108.6L675 1136.3M707.3 1108.6L679.6 1136.3" stroke="#000" stroke-width="1.9" fill="none" clip-path="url(#f3h)"/>
<path d="M632.3 1138.3H649.2V1158.4Q618.4 1156.3 590.1 1151.5V1143.9H632.3Z" stroke="#000" stroke-width="0.5" fill="#000" />
<rect x="590.1" y="1157" width="18.7" height="21" rx="1" fill="#000" stroke="none"/>
<rect x="611.1" y="1157" width="17" height="21" rx="1" fill="#000" stroke="none"/>
<rect x="630.5" y="1157" width="12.6" height="21" rx="1" fill="#000" stroke="none"/>
<path d="M588.7 1152.9Q618.4 1154.9 649.2 1159.8" stroke="#fff" stroke-width="2.4" fill="none" />
<rect x="645.4" y="1158.4" width="2.1" height="19.4" rx="0" fill="#000" stroke="none"/>
<path d="M652.8 1097.5L652.8 1158.4" stroke="#000" stroke-width="2" stroke-dasharray="2.4 2" style="stroke-linecap:butt"/>
<path d="M647.5 1074.7L647.5 1110" stroke="#000" stroke-width="2.2" stroke-dasharray="2.2 1.6" style="stroke-linecap:butt"/>
<rect x="610.1" y="1180.6" width="37.4" height="1.7" rx="1" fill="#000" stroke="none"/>
<circle cx="649.6" cy="1181.7" r="1.3" stroke="#000" stroke-width="0.5" fill="#000" />
<circle cx="651.7" cy="1175" r="1" stroke="#000" stroke-width="0.5" fill="#000" />
<path d="M655.1 1179.2H662.7L660 1185.4H647.5Z" stroke="#fff" stroke-width="1" fill="#fff" />
<path d="M655.8 1054.6H669.7Q673.8 1057.4 673.1 1065.7V1073.3H666.9L671.7 1085.1V1090.6H660L665.5 1098.9L658.6 1103H653V1054.6Z" stroke="#fff" stroke-width="1" fill="#fff" />
<rect x="656.9" y="1056.3" width="4.4" height="9.4" rx="0" fill="#000" stroke="none"/>
<path d="M658.6 1056.3L671 1061.5" stroke="#000" stroke-width="3.2" fill="none" />
<rect x="651.4" y="1079.2" width="14.1" height="8.9" rx="1" fill="#000" stroke="none"/>
<rect x="653" y="1081.6" width="8.3" height="3.5" rx="0" fill="#fff" stroke="none"/>
<rect x="658.6" y="1092" width="11.1" height="5.5" rx="0" fill="#000" stroke="none"/>
<text class="lb" x="558.5" y="1037" font-size="15.2" textLength="11" lengthAdjust="spacingAndGlyphs" >8</text>
<path d="M560.5 1038Q552 1043 550.4 1052" stroke="#fff" stroke-width="1.8" fill="none" />
<text class="lb" x="639.7" y="1037" font-size="16.7" textLength="11.1" lengthAdjust="spacingAndGlyphs" >3</text>
<path d="M640.8 1038Q632 1044 627.7 1060" stroke="#fff" stroke-width="1.8" fill="none" />
<text class="lb" x="460" y="1061" font-size="19.7" textLength="13" lengthAdjust="spacingAndGlyphs" >7</text>
<path d="M470 1059Q480 1064 500 1060" stroke="#fff" stroke-width="1.8" fill="none" />
<text class="lb" x="460" y="1087" font-size="16.7" textLength="26" lengthAdjust="spacingAndGlyphs" >10a</text>
<path d="M489 1082Q498 1080 504 1070" stroke="#fff" stroke-width="1.8" fill="none" />
<text class="lb" x="476" y="1113.5" font-size="20.5" textLength="17" lengthAdjust="spacingAndGlyphs" >13</text>
<path d="M494 1109.5Q504 1105 514 1104.5" stroke="#fff" stroke-width="1.8" fill="none" />
<text class="lb" x="487" y="1177.7" font-size="16.7" textLength="10" lengthAdjust="spacingAndGlyphs" >4</text>
<path d="M497 1176.7Q505 1182 518 1180.7" stroke="#fff" stroke-width="1.8" fill="none" />
<text class="lb" x="680" y="1177.8" font-size="16.8" textLength="11.8" lengthAdjust="spacingAndGlyphs" >4</text>
<path d="M679.3 1173Q668 1176 661.3 1184" stroke="#fff" stroke-width="1.8" fill="none" />
<text class="lb" x="693.9" y="1070.5" font-size="15.9" textLength="33.1" lengthAdjust="spacingAndGlyphs" >10a</text>
<path d="M691.8 1067.7L673 1067.7" stroke="#fff" stroke-width="2" />
<text class="lb" x="688.3" y="1092" font-size="18.9" textLength="16.7" lengthAdjust="spacingAndGlyphs" >11</text>
<path d="M673 1086.4L687 1086" stroke="#fff" stroke-width="1.8" stroke-dasharray="5 2.5" style="stroke-linecap:butt"/>
<text class="lb" x="695" y="1103.7" font-size="15.6" textLength="17.6" lengthAdjust="spacingAndGlyphs" >13</text>
<path d="M665.5 1098.9L694.6 1098.6" stroke="#fff" stroke-width="2" />
<text class="lb" x="677" y="1117.6" font-size="19.1" textLength="19" lengthAdjust="spacingAndGlyphs" >12</text>
<path d="M658.6 1101L678 1110.7" stroke="#fff" stroke-width="2" />
<text class="lb" x="673" y="1137.6" font-size="16.1" textLength="9" lengthAdjust="spacingAndGlyphs" >2</text>
<path d="M653 1132L671.7 1130.7" stroke="#fff" stroke-width="1.8" />
<path d="M879.5 988H934.6A37.2 37.2 0 0 1 934.6 1062.4H879.5Z" stroke="#fff" stroke-width="4.1" fill="none" />
<path d="M944.1 989.6L947.9 990.9L951.6 992.6L955.1 994.7L958.3 997.1L961.2 999.9L963.8 1003L966.1 1006.3L967.9 1009.9L969.4 1013.7L970.4 1017.6L971 1021.6L971.2 1025.6L970.9 1029.7L970.2 1033.6L969 1037.5L967.4 1041.2L965.4 1044.8L963 1048L960.3 1051L957.3 1053.7L954 1056L950.5 1058L946.7 1059.5L942.8 1060.7L938.8 1061.4L934.8 1061.6L930.8 1061.4L926.8 1060.8L922.9 1059.7L919.1 1058.2" stroke="#fff" stroke-width="8.1" fill="none" />
<path d="M955.4 995.3L958.2 997.4L960.7 999.8L963 1002.4L965 1005.2L966.8 1008.2L968.3 1011.4L969.4 1014.7L970.2 1018.1L970.7 1021.5L970.9 1025L970.7 1028.5L970.2 1031.9L969.4 1035.3L968.3 1038.6L966.8 1041.8L965 1044.8L963 1047.6L960.7 1050.2L958.2 1052.6L955.4 1054.7L952.5 1056.6L949.4 1058.2L946.1 1059.4L942.8 1060.4L939.3 1061L935.9 1061.3L932.4 1061.2L928.9 1060.9L925.5 1060.1L922.2 1059.1" stroke="#000" stroke-width="2.2" fill="none" stroke-dasharray="3.6 4.6" style="stroke-linecap:butt"/>
<path d="M920.7 1054.9L917.9 1053.4L915.2 1051.7L912.7 1049.7L910.5 1047.5L908.4 1045.1L906.6 1042.5L905.1 1039.7L903.8 1036.8L902.8 1033.8L902.1 1030.7L901.7 1027.6L901.6 1024.4L901.8 1021.3L902.3 1018.1L903.1 1015.1L904.2 1012.1L905.6 1009.3L907.2 1006.5L909.1 1004L911.3 1001.7L913.6 999.5L916.1 997.6L918.9 996L921.7 994.6L924.7 993.5L927.7 992.7L930.9 992.2L934 992L937.2 992.1L940.3 992.5" stroke="#fff" stroke-width="2.2" fill="none" />
<path d="M918.3 1060L915.4 1058.5L912.6 1056.7L909.9 1054.7L907.5 1052.5L905.2 1050.1L903.2 1047.5L901.4 1044.7L899.8 1041.8L898.5 1038.8L897.5 1035.6L896.7 1032.4L896.2 1029.2L896 1025.9L896.1 1022.6L896.4 1019.3L897.1 1016.1L898 1012.9L899.1 1009.8L900.5 1006.8L902.2 1004L904.1 1001.3L906.3 998.8L908.6 996.5L911.2 994.3L913.9 992.4L916.7 990.8L919.7 989.4L922.8 988.2L926 987.4L929.2 986.8" stroke="#fff" stroke-width="2.2" fill="none" />
<circle cx="934.6" cy="1025" r="29.3" stroke="#fff" stroke-width="2.3" fill="none" />
<circle cx="934.6" cy="1025" r="27.5" stroke="#000" stroke-width="1" fill="#000" />
<path d="M922.1 1013.8L923.6 1012.3L925.2 1011.1L927 1010L928.9 1009.2L930.8 1008.6L932.8 1008.3L934.9 1008.2L936.9 1008.4L938.9 1008.8L940.9 1009.4" stroke="#fff" stroke-width="1.8" fill="none" stroke-dasharray="2.4 1.5" style="stroke-linecap:butt"/>
<path d="M950.6 1030.2L949.8 1032.2L948.7 1034.1L947.4 1035.8L945.9 1037.4L944.2 1038.8L942.4 1039.9L940.4 1040.8L938.3 1041.4L936.2 1041.7L934 1041.8" stroke="#fff" stroke-width="1.8" fill="none" stroke-dasharray="5 1.4" style="stroke-linecap:butt"/>
<path d="M919.9 1011.8L921.6 1010.1L923.5 1008.6L925.6 1007.4L927.8 1006.4L930.1 1005.7L932.5 1005.3L934.9 1005.2L937.4 1005.4L939.7 1005.9L942 1006.6" stroke="#fff" stroke-width="2.1" fill="none" stroke-dasharray="2.4 1.5" style="stroke-linecap:butt"/>
<path d="M953.4 1031.1L952.5 1033.5L951.2 1035.7L949.7 1037.8L948 1039.6L946 1041.2L943.8 1042.5L941.4 1043.6L939 1044.3L936.5 1044.7L933.9 1044.8" stroke="#fff" stroke-width="2.1" fill="none" stroke-dasharray="5 1.4" style="stroke-linecap:butt"/>
<path d="M917.7 1009.7L919.6 1007.8L921.9 1006.1L924.2 1004.7L926.8 1003.6L929.5 1002.8L932.2 1002.3L935 1002.2L937.8 1002.4L940.5 1003L943.1 1003.9" stroke="#fff" stroke-width="2.1" fill="none" stroke-dasharray="2.4 1.5" style="stroke-linecap:butt"/>
<path d="M956.3 1032L955.2 1034.8L953.8 1037.4L952 1039.7L950 1041.8L947.7 1043.7L945.2 1045.2L942.5 1046.4L939.7 1047.2L936.7 1047.7L933.8 1047.8" stroke="#fff" stroke-width="2.1" fill="none" stroke-dasharray="5 1.4" style="stroke-linecap:butt"/>
<path d="M915.6 1007.9L917.8 1005.7L920.3 1003.8L923 1002.2L925.8 1000.9L928.8 1000.1L931.9 999.5L935 999.4L938.2 999.6L941.2 1000.3L944.2 1001.3" stroke="#fff" stroke-width="1.8" fill="none" stroke-dasharray="2.4 1.5" style="stroke-linecap:butt"/>
<path d="M958.9 1032.9L957.7 1036L956.1 1038.9L954.2 1041.5L951.9 1043.9L949.3 1046L946.5 1047.7L943.4 1049L940.3 1050L937 1050.5L933.7 1050.6" stroke="#fff" stroke-width="1.8" fill="none" stroke-dasharray="5 1.4" style="stroke-linecap:butt"/>
<path d="M914.9 1017.8L915.4 1016.5L916.1 1015.1L916.8 1013.9L917.6 1012.7" stroke="#fff" stroke-width="4.4" fill="none" />
<path d="M948.6 1014L956.6 1010" stroke="#fff" stroke-width="2" />
<circle cx="934.6" cy="1025" r="12.8" stroke="#fff" stroke-width="2.3" fill="#000" />
<path d="M929.9 1033.2L927.5 1031.4L925.9 1028.9L925.2 1026L925.3 1023L926.4 1020.2L928.2 1017.9L930.7 1016.3L933.6 1015.6L936.6 1015.7L939.4 1016.8" stroke="#fff" stroke-width="1.7" fill="none" />
<path d="M930.6 1029.8L929.4 1028.5L928.6 1026.9L928.3 1025.2L928.5 1023.5L929.1 1021.9L930.2 1020.5L931.6 1019.4L933.3 1018.8L935 1018.7L936.8 1019.1" stroke="#fff" stroke-width="1.6" fill="none" />
<path d="M940.1 1021.9L940.6 1022.9L940.8 1024.1L940.9 1025.3L940.7 1026.5L940.3 1027.7L939.7 1028.7L938.9 1029.6L937.9 1030.3L936.9 1030.9L935.7 1031.2" stroke="#fff" stroke-width="1.5" fill="none" />
<circle cx="933.6" cy="1024" r="1.2" stroke="#fff" stroke-width="0.8" fill="#fff" />
<circle cx="936.6" cy="1028" r="1.1" stroke="#fff" stroke-width="0.8" fill="#fff" />
<path d="M898.5 1052.2L896.4 1049.2L894.6 1046L893 1042.6L891.7 1039.2L890.7 1035.6L889.9 1032L889.5 1028.3L889.4 1024.6L889.6 1020.9L890.1 1017.2L890.9 1013.6L891.9 1010.1L893.3 1006.7L894.9 1003.3L896.8 1000.2L899 997.2" stroke="#fff" stroke-width="6.3" fill="none" />
<path d="M897.1 1050.3L895.3 1047.3L893.7 1044.3L892.4 1041.1L891.3 1037.8L890.4 1034.5L889.8 1031.1L889.5 1027.7L889.4 1024.2L889.6 1020.8L890.1 1017.3L890.8 1014L891.7 1010.7L893 1007.4L894.4 1004.3L896.1 1001.3L898 998.4" stroke="#000" stroke-width="3.2" fill="none" stroke-dasharray="2.6 3.2" style="stroke-linecap:butt"/>
<path d="M881 1002L893 1002" stroke="#fff" stroke-width="2.2" />
<path d="M920 990L894 1003.5" stroke="#fff" stroke-width="2.2" />
<path d="M906.5 1051.5L923 1060" stroke="#fff" stroke-width="2.2" />
<text class="lb" x="841" y="995" font-size="13.6" textLength="30" lengthAdjust="spacingAndGlyphs" >32a</text>
<path d="M860 995L868 1002L879 1003" stroke="#fff" stroke-width="1.8" fill="none" />
<text class="lb" x="976.7" y="993" font-size="15.2" textLength="18" lengthAdjust="spacingAndGlyphs" >20</text>
<path d="M975.7 990L964.6 1002" stroke="#fff" stroke-width="1.8" />
<text class="lb" x="991.7" y="1028" font-size="13.6" textLength="27.1" lengthAdjust="spacingAndGlyphs" >20a</text>
<path d="M990.7 1024L975.7 1027" stroke="#fff" stroke-width="1.8" />
<text class="lb" x="981.7" y="1052" font-size="16.7" textLength="25.1" lengthAdjust="spacingAndGlyphs" >20b</text>
<path d="M980.7 1045L972.7 1041" stroke="#fff" stroke-width="1.8" />
<text class="lb" x="807" y="1086" font-size="13.6" textLength="21" lengthAdjust="spacingAndGlyphs" >32</text>
<path d="M825 1074Q840 1058 870 1050Q882 1044 891 1036" stroke="#fff" stroke-width="1.8" fill="none" />
<text class="lb" x="848" y="1076" font-size="13.6" textLength="14" lengthAdjust="spacingAndGlyphs" >21</text>
<path d="M860 1066Q866 1060 879 1058" stroke="#fff" stroke-width="1.8" fill="none" />
<text class="lb" x="887" y="1084" font-size="15.2" textLength="18" lengthAdjust="spacingAndGlyphs" >31</text>
<path d="M896 1072L898 1058L908 1048" stroke="#fff" stroke-width="1.8" fill="none" />
</g>
</svg>
</body></html>
